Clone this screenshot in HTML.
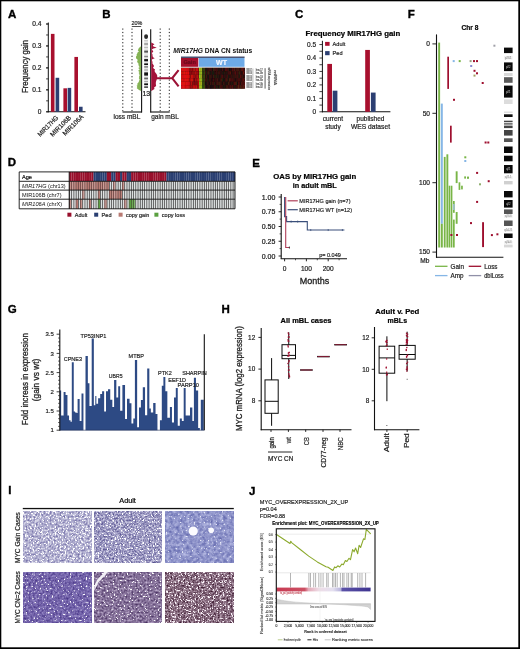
<!DOCTYPE html>
<html><head><meta charset="utf-8"><title>Figure</title>
<style>
html,body{margin:0;padding:0;background:#fff;}
body{width:520px;height:649px;overflow:hidden;font-family:"Liberation Sans", sans-serif;}
svg{display:block;will-change:transform;filter:blur(0.3px);}
svg text{font-family:"Liberation Sans", sans-serif;}
</style></head><body>
<svg width="520" height="649" viewBox="0 0 520 649">
<defs><filter id="hb" x="-2%" y="-2%" width="104%" height="104%"><feGaussianBlur stdDeviation="0.5"/></filter>
<filter id="t1" x="0" y="0" width="100%" height="100%" color-interpolation-filters="sRGB"><feTurbulence type="fractalNoise" baseFrequency="0.5" numOctaves="2" seed="2"/><feColorMatrix type="matrix" values="0.803 0 0 0 0.281 0.828 0 0 0 0.260 0.527 0 0 0 0.544 0 0 0 0 1"/><feGaussianBlur stdDeviation="0.4"/></filter>
<filter id="s1" x="0" y="0" width="100%" height="100%" color-interpolation-filters="sRGB"><feTurbulence type="fractalNoise" baseFrequency="0.6" numOctaves="2" seed="21"/><feColorMatrix type="matrix" values="0 0 0 0 1.000 0 0 0 0 1.000 0 0 0 0 1.000 12 0 0 0 -7.2"/><feGaussianBlur stdDeviation="0.35"/></filter>
<filter id="t2" x="0" y="0" width="100%" height="100%" color-interpolation-filters="sRGB"><feTurbulence type="fractalNoise" baseFrequency="0.55" numOctaves="2" seed="5"/><feColorMatrix type="matrix" values="0.841 0 0 0 0.184 0.860 0 0 0 0.162 0.602 0 0 0 0.452 0 0 0 0 1"/><feGaussianBlur stdDeviation="0.4"/></filter>
<filter id="s2" x="0" y="0" width="100%" height="100%" color-interpolation-filters="sRGB"><feTurbulence type="fractalNoise" baseFrequency="0.6" numOctaves="2" seed="22"/><feColorMatrix type="matrix" values="0 0 0 0 1.000 0 0 0 0 1.000 0 0 0 0 1.000 12 0 0 0 -7.44"/><feGaussianBlur stdDeviation="0.35"/></filter>
<filter id="t3" x="0" y="0" width="100%" height="100%" color-interpolation-filters="sRGB"><feTurbulence type="fractalNoise" baseFrequency="0.3" numOctaves="2" seed="7"/><feColorMatrix type="matrix" values="0.483 0 0 0 0.319 0.472 0 0 0 0.344 0.307 0 0 0 0.638 0 0 0 0 1"/><feGaussianBlur stdDeviation="0.5"/></filter>
<filter id="s3" x="0" y="0" width="100%" height="100%" color-interpolation-filters="sRGB"><feTurbulence type="fractalNoise" baseFrequency="0.5" numOctaves="2" seed="23"/><feColorMatrix type="matrix" values="0 0 0 0 0.910 0 0 0 0 0.918 0 0 0 0 0.973 12 0 0 0 -8.16"/><feGaussianBlur stdDeviation="0.35"/></filter>
<filter id="t4" x="0" y="0" width="100%" height="100%" color-interpolation-filters="sRGB"><feTurbulence type="fractalNoise" baseFrequency="0.45" numOctaves="2" seed="9"/><feColorMatrix type="matrix" values="0.489 0 0 0 0.210 0.520 0 0 0 0.132 0.398 0 0 0 0.468 0 0 0 0 1"/><feGaussianBlur stdDeviation="0.45"/></filter>
<filter id="s4" x="0" y="0" width="100%" height="100%" color-interpolation-filters="sRGB"><feTurbulence type="fractalNoise" baseFrequency="0.5" numOctaves="2" seed="24"/><feColorMatrix type="matrix" values="0 0 0 0 1.000 0 0 0 0 1.000 0 0 0 0 1.000 12 0 0 0 -7.92"/><feGaussianBlur stdDeviation="0.35"/></filter>
<filter id="t5" x="0" y="0" width="100%" height="100%" color-interpolation-filters="sRGB"><feTurbulence type="fractalNoise" baseFrequency="0.5" numOctaves="2" seed="11"/><feColorMatrix type="matrix" values="0.724 0 0 0 0.156 0.765 0 0 0 0.057 0.671 0 0 0 0.261 0 0 0 0 1"/><feGaussianBlur stdDeviation="0.45"/></filter>
<filter id="s5" x="0" y="0" width="100%" height="100%" color-interpolation-filters="sRGB"><feTurbulence type="fractalNoise" baseFrequency="0.55" numOctaves="2" seed="25"/><feColorMatrix type="matrix" values="0 0 0 0 1.000 0 0 0 0 1.000 0 0 0 0 1.000 12 0 0 0 -7.92"/><feGaussianBlur stdDeviation="0.35"/></filter>
<filter id="t6" x="0" y="0" width="100%" height="100%" color-interpolation-filters="sRGB"><feTurbulence type="fractalNoise" baseFrequency="0.55" numOctaves="2" seed="13"/><feColorMatrix type="matrix" values="0.916 0 0 0 0.052 1.004 0 0 0 -0.102 0.966 0 0 0 -0.005 0 0 0 0 1"/><feGaussianBlur stdDeviation="0.45"/></filter>
<filter id="s6" x="0" y="0" width="100%" height="100%" color-interpolation-filters="sRGB"><feTurbulence type="fractalNoise" baseFrequency="0.6" numOctaves="2" seed="26"/><feColorMatrix type="matrix" values="0 0 0 0 0.984 0 0 0 0 0.957 0 0 0 0 0.980 12 0 0 0 -7.2"/><feGaussianBlur stdDeviation="0.35"/></filter>
<linearGradient id="cb" x1="0" x2="1" y1="0" y2="0"><stop offset="0" stop-color="#c83a52"/><stop offset="0.3" stop-color="#cc5064"/><stop offset="0.34" stop-color="#e4aab8"/><stop offset="0.45" stop-color="#eedce6"/><stop offset="0.6" stop-color="#e4e0f0"/><stop offset="0.68" stop-color="#b8b4dc"/><stop offset="0.7" stop-color="#5c52a8"/><stop offset="1" stop-color="#3e3490"/></linearGradient></defs>
<rect width="520" height="649" fill="#fff"/>
<rect x="0" y="0" width="520" height="1.3" fill="#000"/>
<rect x="0" y="0" width="1.3" height="649" fill="#000"/>
<rect x="518.3" y="0" width="1.7" height="649" fill="#000"/>
<rect x="0" y="647.3" width="520" height="1.7" fill="#000"/>
<text x="8" y="17.84" font-size="11.5" font-weight="bold" fill="#000" stroke="#000" stroke-width="0.35">A</text>
<line x1="48.3" y1="22.5" x2="48.3" y2="112.3" stroke="#111" stroke-width="1"/>
<line x1="47.8" y1="111.8" x2="85.5" y2="111.8" stroke="#111" stroke-width="1.1"/>
<line x1="46.1" y1="111.8" x2="48.3" y2="111.8" stroke="#111" stroke-width="0.8"/>
<text x="41.4" y="114.18" font-size="6.6" text-anchor="end" fill="#222" stroke="#222" stroke-width="0.2">0</text>
<line x1="46.1" y1="89.85" x2="48.3" y2="89.85" stroke="#111" stroke-width="0.8"/>
<text x="41.4" y="92.23" font-size="6.6" text-anchor="end" fill="#222" stroke="#222" stroke-width="0.2">0.1</text>
<line x1="46.1" y1="67.9" x2="48.3" y2="67.9" stroke="#111" stroke-width="0.8"/>
<text x="41.4" y="70.28" font-size="6.6" text-anchor="end" fill="#222" stroke="#222" stroke-width="0.2">0.2</text>
<line x1="46.1" y1="45.95" x2="48.3" y2="45.95" stroke="#111" stroke-width="0.8"/>
<text x="41.4" y="48.33" font-size="6.6" text-anchor="end" fill="#222" stroke="#222" stroke-width="0.2">0.3</text>
<line x1="46.1" y1="24" x2="48.3" y2="24" stroke="#111" stroke-width="0.8"/>
<text x="41.4" y="26.38" font-size="6.6" text-anchor="end" fill="#222" stroke="#222" stroke-width="0.2">0.4</text>
<line x1="46.1" y1="111.8" x2="48.3" y2="111.8" stroke="#111" stroke-width="0.8"/>
<line x1="46.1" y1="100.83" x2="48.3" y2="100.83" stroke="#111" stroke-width="0.8"/>
<line x1="46.1" y1="89.85" x2="48.3" y2="89.85" stroke="#111" stroke-width="0.8"/>
<line x1="46.1" y1="78.88" x2="48.3" y2="78.88" stroke="#111" stroke-width="0.8"/>
<line x1="46.1" y1="67.9" x2="48.3" y2="67.9" stroke="#111" stroke-width="0.8"/>
<line x1="46.1" y1="56.93" x2="48.3" y2="56.93" stroke="#111" stroke-width="0.8"/>
<line x1="46.1" y1="45.95" x2="48.3" y2="45.95" stroke="#111" stroke-width="0.8"/>
<line x1="46.1" y1="34.97" x2="48.3" y2="34.97" stroke="#111" stroke-width="0.8"/>
<line x1="46.1" y1="24" x2="48.3" y2="24" stroke="#111" stroke-width="0.8"/>
<rect x="50.9" y="33.88" width="3.6" height="77.92" fill="#a8102e"/>
<rect x="55.6" y="77.78" width="3.6" height="34.02" fill="#2c3f72"/>
<rect x="63.4" y="88.31" width="3.6" height="23.49" fill="#a8102e"/>
<rect x="67.6" y="87.87" width="3.6" height="23.93" fill="#2c3f72"/>
<rect x="74.4" y="56.93" width="3.6" height="54.87" fill="#a8102e"/>
<rect x="79" y="106.75" width="3.6" height="5.05" fill="#2c3f72"/>
<text x="24.2" y="69.96" font-size="9.6" text-anchor="middle" fill="#222" stroke="#222" stroke-width="0.3" textLength="53" lengthAdjust="spacingAndGlyphs" transform="rotate(-90 24.2 66.5)">Frequency gain</text>
<text x="57.2" y="118.98" font-size="6.6" text-anchor="end" fill="#222" stroke="#222" stroke-width="0.2" textLength="26.5" lengthAdjust="spacingAndGlyphs" transform="rotate(-45 57.2 116.6)">MIR17HG</text>
<text x="69.8" y="118.98" font-size="6.6" text-anchor="end" fill="#222" stroke="#222" stroke-width="0.2" textLength="26.5" lengthAdjust="spacingAndGlyphs" transform="rotate(-45 69.8 116.6)">MIR106B</text>
<text x="82.4" y="117.98" font-size="6.6" text-anchor="end" fill="#222" stroke="#222" stroke-width="0.2" textLength="26.5" lengthAdjust="spacingAndGlyphs" transform="rotate(-45 82.4 115.6)">MIR106A</text>
<text x="102.2" y="17.84" font-size="11.5" font-weight="bold" fill="#000" stroke="#000" stroke-width="0.35">B</text>
<text x="136.8" y="24.94" font-size="5.4" text-anchor="middle" fill="#222" stroke="#222" stroke-width="0.17">20%</text>
<line x1="131.8" y1="26.5" x2="141.2" y2="26.5" stroke="#222" stroke-width="0.8"/>
<line x1="122.8" y1="28.5" x2="122.8" y2="111.2" stroke="#1a1a1a" stroke-width="1" stroke-dasharray="1.2 2.2"/>
<line x1="132" y1="28.5" x2="132" y2="111.2" stroke="#1a1a1a" stroke-width="1" stroke-dasharray="1.2 2.2"/>
<line x1="160.2" y1="28.5" x2="160.2" y2="111.2" stroke="#1a1a1a" stroke-width="1" stroke-dasharray="1.2 2.2"/>
<line x1="169.3" y1="28.5" x2="169.3" y2="111.2" stroke="#1a1a1a" stroke-width="1" stroke-dasharray="1.2 2.2"/>
<line x1="141.6" y1="29.3" x2="141.6" y2="112.4" stroke="#111" stroke-width="1.1"/>
<line x1="150.7" y1="29.3" x2="150.7" y2="112.4" stroke="#111" stroke-width="1.1"/>
<line x1="122.5" y1="112" x2="141.9" y2="112" stroke="#111" stroke-width="1.1"/>
<line x1="150.4" y1="112" x2="169.7" y2="112" stroke="#111" stroke-width="1.1"/>
<text x="126.9" y="118.68" font-size="6.6" text-anchor="middle" fill="#222" stroke="#222" stroke-width="0.2" textLength="26.8" lengthAdjust="spacingAndGlyphs">loss mBL</text>
<text x="165" y="118.68" font-size="6.6" text-anchor="middle" fill="#222" stroke="#222" stroke-width="0.2" textLength="27.6" lengthAdjust="spacingAndGlyphs">gain mBL</text>
<polygon points="141.1,46.5 140.6,46.5 139.69,47.3 139.03,48.1 138.26,48.9 138.24,49.7 137.72,50.5 138.99,51.3 138.13,52.1 137.12,52.9 137.35,53.7 136.46,54.5 137.08,55.3 136.11,56.1 136.15,56.9 135.91,57.7 136.18,58.5 137.4,59.3 137.39,60.1 137.61,60.9 136.91,61.7 137.47,62.5 138.7,63.3 137.84,64.1 139.06,64.9 138.38,65.7 139.25,66.5 139.53,67.3 138.22,68.1 139.35,68.9 139.43,69.7 138.28,70.5 138.53,71.3 139.55,72.1 138.55,72.9 139.31,73.7 139.17,74.5 140,75.3 138.9,76.1 139.38,76.9 138.88,77.7 138.92,78.5 139.69,79.3 139.23,80.1 139.18,80.9 138.75,81.7 138.4,82.5 137.75,83.3 137.02,84.1 137.81,84.9 136.58,85.7 137.13,86.5 137.3,87.3 136.66,88.1 137.73,88.9 138.75,89.7 139.93,90.5 141.1,91" fill="#84b254"/>
<polygon points="151.2,42.5 151.47,42.5 152.6,43.2 154.51,44.3 152.89,45.2 153.01,46.3 156.8,47.7 153.32,48.6 151.86,49.6 152.84,50.8 153.29,51.8 151.83,53 152.5,54.5 152.56,56 152.96,57.2 154.78,58.2 152.13,59.2 151.99,60.5 152.49,62 152.41,63.5 153.54,65 154.07,66.2 153.02,67.2 153.59,68.4 155.04,69.6 154.48,71 155.32,72.5 156.51,74 157.21,75.5 157.26,77 156.86,79 156.38,80.5 155.88,82 155.81,84 156.16,86 154.06,87.5 154.5,89 152.88,90 151.4,91 151.2,91" fill="#a3123a"/>
<path d="M156 78.2 H172.2 L178.6 70.2 M172.2 78.2 L178.6 86.4" stroke="#9c1236" stroke-width="2.1" fill="none" stroke-linecap="butt"/>
<rect x="144.2" y="39.6" width="3.8" height="48.4" fill="#e4e4e4"/>
<rect x="144.2" y="34.2" width="3.8" height="4.8" rx="1.9" fill="#2a2a2a"/>
<rect x="144.2" y="40.2" width="3.8" height="1" fill="#c8c8c8"/>
<rect x="144.2" y="43.2" width="3.8" height="1.6" fill="#9a9a9a"/>
<rect x="144.2" y="47" width="3.8" height="1" fill="#bbb"/>
<rect x="144.2" y="50.6" width="3.8" height="2" fill="#555"/>
<rect x="144.2" y="55.8" width="3.8" height="1.4" fill="#888"/>
<rect x="144.2" y="59.1" width="3.8" height="2.2" fill="#111"/>
<rect x="144.2" y="63.4" width="3.8" height="1.6" fill="#111"/>
<rect x="144.2" y="66.2" width="3.8" height="1.4" fill="#777"/>
<rect x="144.2" y="69.5" width="3.8" height="1" fill="#999"/>
<rect x="144.2" y="72.4" width="3.8" height="3.2" fill="#151515"/>
<rect x="144.2" y="77.6" width="3.8" height="1.7" fill="#666"/>
<rect x="144.2" y="81" width="3.8" height="0.8" fill="#999"/>
<rect x="144.2" y="83.4" width="3.8" height="1.7" fill="#111"/>
<rect x="144.2" y="86.3" width="3.8" height="1.7" fill="#555"/>
<text x="146.3" y="96.02" font-size="7" text-anchor="middle" fill="#222" stroke="#222" stroke-width="0.22">13</text>
<text x="173.2" y="52.59" font-size="7.2" font-weight="bold" fill="#111" textLength="79" lengthAdjust="spacingAndGlyphs"><tspan font-style="italic">MIR17HG</tspan> DNA CN status</text>
<rect x="181" y="56.6" width="63.6" height="1.2" fill="#1e2a50"/>
<rect x="181" y="58" width="17.3" height="8.8" fill="#a3102c"/>
<rect x="198.9" y="58" width="45.6" height="8.8" fill="#6eaae6"/>
<text x="189.6" y="64.42" font-size="5.6" text-anchor="middle" font-weight="bold" fill="#6a0a1c" stroke="#6a0a1c" stroke-width="0.17">Gain</text>
<text x="221.5" y="64.92" font-size="7" text-anchor="middle" font-weight="bold" fill="#f4f8ff" stroke="#f4f8ff" stroke-width="0.22">WT</text>
<rect x="181" y="67.8" width="63.6" height="20.8" fill="#2a0c0a"/>
<g filter="url(#hb)">
<rect x="181" y="67.8" width="1.05" height="3.52" fill="rgb(207,17,15)"/>
<rect x="181" y="71.27" width="1.05" height="3.52" fill="rgb(218,19,12)"/>
<rect x="181" y="74.73" width="1.05" height="3.52" fill="rgb(200,23,14)"/>
<rect x="181" y="78.2" width="1.05" height="3.52" fill="rgb(207,25,16)"/>
<rect x="181" y="81.67" width="1.05" height="3.52" fill="rgb(225,16,18)"/>
<rect x="181" y="85.13" width="1.05" height="3.52" fill="rgb(204,19,20)"/>
<rect x="182" y="67.8" width="1.05" height="3.52" fill="rgb(215,21,18)"/>
<rect x="182" y="71.27" width="1.05" height="3.52" fill="rgb(201,21,17)"/>
<rect x="182" y="74.73" width="1.05" height="3.52" fill="rgb(209,8,20)"/>
<rect x="182" y="78.2" width="1.05" height="3.52" fill="rgb(214,20,20)"/>
<rect x="182" y="81.67" width="1.05" height="3.52" fill="rgb(221,24,15)"/>
<rect x="182" y="85.13" width="1.05" height="3.52" fill="rgb(224,16,21)"/>
<rect x="183" y="67.8" width="1.05" height="3.52" fill="rgb(226,9,13)"/>
<rect x="183" y="71.27" width="1.05" height="3.52" fill="rgb(206,25,16)"/>
<rect x="183" y="74.73" width="1.05" height="3.52" fill="rgb(218,13,17)"/>
<rect x="183" y="78.2" width="1.05" height="3.52" fill="rgb(211,14,17)"/>
<rect x="183" y="81.67" width="1.05" height="3.52" fill="rgb(217,24,18)"/>
<rect x="183" y="85.13" width="1.05" height="3.52" fill="rgb(227,23,21)"/>
<rect x="184" y="67.8" width="1.05" height="3.52" fill="rgb(220,10,20)"/>
<rect x="184" y="71.27" width="1.05" height="3.52" fill="rgb(228,24,17)"/>
<rect x="184" y="74.73" width="1.05" height="3.52" fill="rgb(221,11,20)"/>
<rect x="184" y="78.2" width="1.05" height="3.52" fill="rgb(217,13,12)"/>
<rect x="184" y="81.67" width="1.05" height="3.52" fill="rgb(225,25,12)"/>
<rect x="184" y="85.13" width="1.05" height="3.52" fill="rgb(224,15,13)"/>
<rect x="185" y="67.8" width="1.05" height="3.52" fill="rgb(208,21,20)"/>
<rect x="185" y="71.27" width="1.05" height="3.52" fill="rgb(201,19,12)"/>
<rect x="185" y="74.73" width="1.05" height="3.52" fill="rgb(221,13,20)"/>
<rect x="185" y="78.2" width="1.05" height="3.52" fill="rgb(229,17,21)"/>
<rect x="185" y="81.67" width="1.05" height="3.52" fill="rgb(209,9,17)"/>
<rect x="185" y="85.13" width="1.05" height="3.52" fill="rgb(200,11,16)"/>
<rect x="186" y="67.8" width="1.05" height="3.52" fill="rgb(218,10,12)"/>
<rect x="186" y="71.27" width="1.05" height="3.52" fill="rgb(226,13,21)"/>
<rect x="186" y="74.73" width="1.05" height="3.52" fill="rgb(226,14,16)"/>
<rect x="186" y="78.2" width="1.05" height="3.52" fill="rgb(215,19,17)"/>
<rect x="186" y="81.67" width="1.05" height="3.52" fill="rgb(216,19,21)"/>
<rect x="186" y="85.13" width="1.05" height="3.52" fill="rgb(215,15,19)"/>
<rect x="187" y="67.8" width="1.05" height="3.52" fill="rgb(207,13,21)"/>
<rect x="187" y="71.27" width="1.05" height="3.52" fill="rgb(215,17,12)"/>
<rect x="187" y="74.73" width="1.05" height="3.52" fill="rgb(212,18,12)"/>
<rect x="187" y="78.2" width="1.05" height="3.52" fill="rgb(218,19,12)"/>
<rect x="187" y="81.67" width="1.05" height="3.52" fill="rgb(218,16,18)"/>
<rect x="187" y="85.13" width="1.05" height="3.52" fill="rgb(210,20,19)"/>
<rect x="188" y="67.8" width="1.05" height="3.52" fill="rgb(200,9,18)"/>
<rect x="188" y="71.27" width="1.05" height="3.52" fill="rgb(228,12,16)"/>
<rect x="188" y="74.73" width="1.05" height="3.52" fill="rgb(217,13,15)"/>
<rect x="188" y="78.2" width="1.05" height="3.52" fill="rgb(209,14,17)"/>
<rect x="188" y="81.67" width="1.05" height="3.52" fill="rgb(209,14,19)"/>
<rect x="188" y="85.13" width="1.05" height="3.52" fill="rgb(200,18,19)"/>
<rect x="189" y="67.8" width="1.05" height="3.52" fill="rgb(147,9,16)"/>
<rect x="189" y="71.27" width="1.05" height="3.52" fill="rgb(141,8,12)"/>
<rect x="189" y="74.73" width="1.05" height="3.52" fill="rgb(182,7,11)"/>
<rect x="189" y="78.2" width="1.05" height="3.52" fill="rgb(150,17,12)"/>
<rect x="189" y="81.67" width="1.05" height="3.52" fill="rgb(196,8,11)"/>
<rect x="189" y="85.13" width="1.05" height="3.52" fill="rgb(178,18,12)"/>
<rect x="190" y="67.8" width="1.05" height="3.52" fill="rgb(140,7,13)"/>
<rect x="190" y="71.27" width="1.05" height="3.52" fill="rgb(137,17,16)"/>
<rect x="190" y="74.73" width="1.05" height="3.52" fill="rgb(136,9,16)"/>
<rect x="190" y="78.2" width="1.05" height="3.52" fill="rgb(177,17,11)"/>
<rect x="190" y="81.67" width="1.05" height="3.52" fill="rgb(131,10,15)"/>
<rect x="190" y="85.13" width="1.05" height="3.52" fill="rgb(144,10,12)"/>
<rect x="191" y="67.8" width="1.05" height="3.52" fill="rgb(157,11,17)"/>
<rect x="191" y="71.27" width="1.05" height="3.52" fill="rgb(134,6,17)"/>
<rect x="191" y="74.73" width="1.05" height="3.52" fill="rgb(199,19,12)"/>
<rect x="191" y="78.2" width="1.05" height="3.52" fill="rgb(205,18,10)"/>
<rect x="191" y="81.67" width="1.05" height="3.52" fill="rgb(187,17,14)"/>
<rect x="191" y="85.13" width="1.05" height="3.52" fill="rgb(166,10,11)"/>
<rect x="192" y="67.8" width="1.05" height="3.52" fill="rgb(140,6,13)"/>
<rect x="192" y="71.27" width="1.05" height="3.52" fill="rgb(145,17,8)"/>
<rect x="192" y="74.73" width="1.05" height="3.52" fill="rgb(201,15,17)"/>
<rect x="192" y="78.2" width="1.05" height="3.52" fill="rgb(200,18,13)"/>
<rect x="192" y="81.67" width="1.05" height="3.52" fill="rgb(121,16,9)"/>
<rect x="192" y="85.13" width="1.05" height="3.52" fill="rgb(146,15,13)"/>
<rect x="193" y="67.8" width="1.05" height="3.52" fill="rgb(157,19,14)"/>
<rect x="193" y="71.27" width="1.05" height="3.52" fill="rgb(150,9,16)"/>
<rect x="193" y="74.73" width="1.05" height="3.52" fill="rgb(162,16,11)"/>
<rect x="193" y="78.2" width="1.05" height="3.52" fill="rgb(137,13,16)"/>
<rect x="193" y="81.67" width="1.05" height="3.52" fill="rgb(135,17,17)"/>
<rect x="193" y="85.13" width="1.05" height="3.52" fill="rgb(192,17,8)"/>
<rect x="194" y="67.8" width="1.05" height="3.52" fill="rgb(176,18,8)"/>
<rect x="194" y="71.27" width="1.05" height="3.52" fill="rgb(144,9,13)"/>
<rect x="194" y="74.73" width="1.05" height="3.52" fill="rgb(158,12,15)"/>
<rect x="194" y="78.2" width="1.05" height="3.52" fill="rgb(120,6,9)"/>
<rect x="194" y="81.67" width="1.05" height="3.52" fill="rgb(131,6,17)"/>
<rect x="194" y="85.13" width="1.05" height="3.52" fill="rgb(196,7,13)"/>
<rect x="195" y="67.8" width="1.05" height="3.52" fill="rgb(148,10,11)"/>
<rect x="195" y="71.27" width="1.05" height="3.52" fill="rgb(178,14,11)"/>
<rect x="195" y="74.73" width="1.05" height="3.52" fill="rgb(137,10,9)"/>
<rect x="195" y="78.2" width="1.05" height="3.52" fill="rgb(169,16,11)"/>
<rect x="195" y="81.67" width="1.05" height="3.52" fill="rgb(127,8,11)"/>
<rect x="195" y="85.13" width="1.05" height="3.52" fill="rgb(174,16,11)"/>
<rect x="196" y="67.8" width="1.05" height="3.52" fill="rgb(192,14,12)"/>
<rect x="196" y="71.27" width="1.05" height="3.52" fill="rgb(153,12,15)"/>
<rect x="196" y="74.73" width="1.05" height="3.52" fill="rgb(157,15,12)"/>
<rect x="196" y="78.2" width="1.05" height="3.52" fill="rgb(142,13,14)"/>
<rect x="196" y="81.67" width="1.05" height="3.52" fill="rgb(126,11,12)"/>
<rect x="196" y="85.13" width="1.05" height="3.52" fill="rgb(199,19,11)"/>
<rect x="197" y="67.8" width="1.05" height="3.52" fill="rgb(200,17,10)"/>
<rect x="197" y="71.27" width="1.05" height="3.52" fill="rgb(161,7,16)"/>
<rect x="197" y="74.73" width="1.05" height="3.52" fill="rgb(179,18,15)"/>
<rect x="197" y="78.2" width="1.05" height="3.52" fill="rgb(180,16,13)"/>
<rect x="197" y="81.67" width="1.05" height="3.52" fill="rgb(129,14,8)"/>
<rect x="197" y="85.13" width="1.05" height="3.52" fill="rgb(132,16,8)"/>
<rect x="198" y="67.8" width="1.05" height="3.52" fill="rgb(128,7,16)"/>
<rect x="198" y="71.27" width="1.05" height="3.52" fill="rgb(136,6,16)"/>
<rect x="198" y="74.73" width="1.05" height="3.52" fill="rgb(130,17,14)"/>
<rect x="198" y="78.2" width="1.05" height="3.52" fill="rgb(195,19,13)"/>
<rect x="198" y="81.67" width="1.05" height="3.52" fill="rgb(191,6,15)"/>
<rect x="198" y="85.13" width="1.05" height="3.52" fill="rgb(166,16,9)"/>
<rect x="199" y="67.8" width="1.05" height="3.52" fill="rgb(159,196,30)"/>
<rect x="199" y="71.27" width="1.05" height="3.52" fill="rgb(132,166,30)"/>
<rect x="199" y="74.73" width="1.05" height="3.52" fill="rgb(152,191,30)"/>
<rect x="199" y="78.2" width="1.05" height="3.52" fill="rgb(139,158,30)"/>
<rect x="199" y="81.67" width="1.05" height="3.52" fill="rgb(139,180,30)"/>
<rect x="199" y="85.13" width="1.05" height="3.52" fill="rgb(160,169,30)"/>
<rect x="200" y="67.8" width="1.05" height="3.52" fill="rgb(144,169,30)"/>
<rect x="200" y="71.27" width="1.05" height="3.52" fill="rgb(144,170,30)"/>
<rect x="200" y="74.73" width="1.05" height="3.52" fill="rgb(133,175,30)"/>
<rect x="200" y="78.2" width="1.05" height="3.52" fill="rgb(168,170,30)"/>
<rect x="200" y="81.67" width="1.05" height="3.52" fill="rgb(159,158,30)"/>
<rect x="200" y="85.13" width="1.05" height="3.52" fill="rgb(157,187,30)"/>
<rect x="201" y="67.8" width="1.05" height="3.52" fill="rgb(156,175,30)"/>
<rect x="201" y="71.27" width="1.05" height="3.52" fill="rgb(149,182,30)"/>
<rect x="201" y="74.73" width="1.05" height="3.52" fill="rgb(165,157,30)"/>
<rect x="201" y="78.2" width="1.05" height="3.52" fill="rgb(133,187,30)"/>
<rect x="201" y="81.67" width="1.05" height="3.52" fill="rgb(166,175,30)"/>
<rect x="201" y="85.13" width="1.05" height="3.52" fill="rgb(147,185,30)"/>
<rect x="202" y="67.8" width="1.05" height="3.52" fill="rgb(45,58,15)"/>
<rect x="202" y="71.27" width="1.05" height="3.52" fill="rgb(45,67,15)"/>
<rect x="202" y="74.73" width="1.05" height="3.52" fill="rgb(49,56,15)"/>
<rect x="202" y="78.2" width="1.05" height="3.52" fill="rgb(60,78,15)"/>
<rect x="202" y="81.67" width="1.05" height="3.52" fill="rgb(48,71,15)"/>
<rect x="202" y="85.13" width="1.05" height="3.52" fill="rgb(52,75,15)"/>
<rect x="203" y="67.8" width="1.05" height="3.52" fill="rgb(57,58,15)"/>
<rect x="203" y="71.27" width="1.05" height="3.52" fill="rgb(46,50,15)"/>
<rect x="203" y="74.73" width="1.05" height="3.52" fill="rgb(54,61,15)"/>
<rect x="203" y="78.2" width="1.05" height="3.52" fill="rgb(45,60,15)"/>
<rect x="203" y="81.67" width="1.05" height="3.52" fill="rgb(49,73,15)"/>
<rect x="203" y="85.13" width="1.05" height="3.52" fill="rgb(44,79,15)"/>
<rect x="204" y="67.8" width="1.05" height="3.52" fill="rgb(54,67,15)"/>
<rect x="204" y="71.27" width="1.05" height="3.52" fill="rgb(54,75,15)"/>
<rect x="204" y="74.73" width="1.05" height="3.52" fill="rgb(64,66,15)"/>
<rect x="204" y="78.2" width="1.05" height="3.52" fill="rgb(54,71,15)"/>
<rect x="204" y="81.67" width="1.05" height="3.52" fill="rgb(65,62,15)"/>
<rect x="204" y="85.13" width="1.05" height="3.52" fill="rgb(62,78,15)"/>
<rect x="205" y="67.8" width="1.05" height="3.52" fill="rgb(41,11,13)"/>
<rect x="205" y="71.27" width="1.05" height="3.52" fill="rgb(63,11,10)"/>
<rect x="205" y="74.73" width="1.05" height="3.52" fill="rgb(28,20,10)"/>
<rect x="205" y="78.2" width="1.05" height="3.52" fill="rgb(58,13,8)"/>
<rect x="205" y="81.67" width="1.05" height="3.52" fill="rgb(24,12,12)"/>
<rect x="205" y="85.13" width="1.05" height="3.52" fill="rgb(50,12,11)"/>
<rect x="206" y="67.8" width="1.05" height="3.52" fill="rgb(29,21,12)"/>
<rect x="206" y="71.27" width="1.05" height="3.52" fill="rgb(25,35,15)"/>
<rect x="206" y="74.73" width="1.05" height="3.52" fill="rgb(60,21,14)"/>
<rect x="206" y="78.2" width="1.05" height="3.52" fill="rgb(54,17,14)"/>
<rect x="206" y="81.67" width="1.05" height="3.52" fill="rgb(31,21,12)"/>
<rect x="206" y="85.13" width="1.05" height="3.52" fill="rgb(25,12,13)"/>
<rect x="207" y="67.8" width="1.05" height="3.52" fill="rgb(45,17,9)"/>
<rect x="207" y="71.27" width="1.05" height="3.52" fill="rgb(60,9,9)"/>
<rect x="207" y="74.73" width="1.05" height="3.52" fill="rgb(35,16,13)"/>
<rect x="207" y="78.2" width="1.05" height="3.52" fill="rgb(40,28,13)"/>
<rect x="207" y="81.67" width="1.05" height="3.52" fill="rgb(54,18,10)"/>
<rect x="207" y="85.13" width="1.05" height="3.52" fill="rgb(37,8,9)"/>
<rect x="208" y="67.8" width="1.05" height="3.52" fill="rgb(54,12,12)"/>
<rect x="208" y="71.27" width="1.05" height="3.52" fill="rgb(54,37,10)"/>
<rect x="208" y="74.73" width="1.05" height="3.52" fill="rgb(24,18,9)"/>
<rect x="208" y="78.2" width="1.05" height="3.52" fill="rgb(28,18,13)"/>
<rect x="208" y="81.67" width="1.05" height="3.52" fill="rgb(46,13,12)"/>
<rect x="208" y="85.13" width="1.05" height="3.52" fill="rgb(45,11,8)"/>
<rect x="209" y="67.8" width="1.05" height="3.52" fill="rgb(56,21,12)"/>
<rect x="209" y="71.27" width="1.05" height="3.52" fill="rgb(46,21,10)"/>
<rect x="209" y="74.73" width="1.05" height="3.52" fill="rgb(58,16,8)"/>
<rect x="209" y="78.2" width="1.05" height="3.52" fill="rgb(55,14,11)"/>
<rect x="209" y="81.67" width="1.05" height="3.52" fill="rgb(29,8,13)"/>
<rect x="209" y="85.13" width="1.05" height="3.52" fill="rgb(40,21,9)"/>
<rect x="210" y="67.8" width="1.05" height="3.52" fill="rgb(56,8,9)"/>
<rect x="210" y="71.27" width="1.05" height="3.52" fill="rgb(24,21,14)"/>
<rect x="210" y="74.73" width="1.05" height="3.52" fill="rgb(51,20,15)"/>
<rect x="210" y="78.2" width="1.05" height="3.52" fill="rgb(52,12,15)"/>
<rect x="210" y="81.67" width="1.05" height="3.52" fill="rgb(59,18,8)"/>
<rect x="210" y="85.13" width="1.05" height="3.52" fill="rgb(21,10,11)"/>
<rect x="211" y="67.8" width="1.05" height="3.52" fill="rgb(52,13,10)"/>
<rect x="211" y="71.27" width="1.05" height="3.52" fill="rgb(41,13,15)"/>
<rect x="211" y="74.73" width="1.05" height="3.52" fill="rgb(52,13,12)"/>
<rect x="211" y="78.2" width="1.05" height="3.52" fill="rgb(30,10,9)"/>
<rect x="211" y="81.67" width="1.05" height="3.52" fill="rgb(40,10,11)"/>
<rect x="211" y="85.13" width="1.05" height="3.52" fill="rgb(27,9,11)"/>
<rect x="212" y="67.8" width="1.05" height="3.52" fill="rgb(22,14,13)"/>
<rect x="212" y="71.27" width="1.05" height="3.52" fill="rgb(23,31,15)"/>
<rect x="212" y="74.73" width="1.05" height="3.52" fill="rgb(30,14,12)"/>
<rect x="212" y="78.2" width="1.05" height="3.52" fill="rgb(35,8,10)"/>
<rect x="212" y="81.67" width="1.05" height="3.52" fill="rgb(56,21,9)"/>
<rect x="212" y="85.13" width="1.05" height="3.52" fill="rgb(33,16,8)"/>
<rect x="213" y="67.8" width="1.05" height="3.52" fill="rgb(53,34,8)"/>
<rect x="213" y="71.27" width="1.05" height="3.52" fill="rgb(24,26,13)"/>
<rect x="213" y="74.73" width="1.05" height="3.52" fill="rgb(60,21,14)"/>
<rect x="213" y="78.2" width="1.05" height="3.52" fill="rgb(63,8,12)"/>
<rect x="213" y="81.67" width="1.05" height="3.52" fill="rgb(62,12,8)"/>
<rect x="213" y="85.13" width="1.05" height="3.52" fill="rgb(38,17,9)"/>
<rect x="214" y="67.8" width="1.05" height="3.52" fill="rgb(55,19,15)"/>
<rect x="214" y="71.27" width="1.05" height="3.52" fill="rgb(37,11,11)"/>
<rect x="214" y="74.73" width="1.05" height="3.52" fill="rgb(32,18,13)"/>
<rect x="214" y="78.2" width="1.05" height="3.52" fill="rgb(38,10,8)"/>
<rect x="214" y="81.67" width="1.05" height="3.52" fill="rgb(43,35,9)"/>
<rect x="214" y="85.13" width="1.05" height="3.52" fill="rgb(59,20,11)"/>
<rect x="215" y="67.8" width="1.05" height="3.52" fill="rgb(63,12,8)"/>
<rect x="215" y="71.27" width="1.05" height="3.52" fill="rgb(41,9,8)"/>
<rect x="215" y="74.73" width="1.05" height="3.52" fill="rgb(26,29,9)"/>
<rect x="215" y="78.2" width="1.05" height="3.52" fill="rgb(51,8,15)"/>
<rect x="215" y="81.67" width="1.05" height="3.52" fill="rgb(32,13,12)"/>
<rect x="215" y="85.13" width="1.05" height="3.52" fill="rgb(57,10,8)"/>
<rect x="216" y="67.8" width="1.05" height="3.52" fill="rgb(57,8,9)"/>
<rect x="216" y="71.27" width="1.05" height="3.52" fill="rgb(60,14,14)"/>
<rect x="216" y="74.73" width="1.05" height="3.52" fill="rgb(50,18,10)"/>
<rect x="216" y="78.2" width="1.05" height="3.52" fill="rgb(49,9,12)"/>
<rect x="216" y="81.67" width="1.05" height="3.52" fill="rgb(57,15,13)"/>
<rect x="216" y="85.13" width="1.05" height="3.52" fill="rgb(25,32,12)"/>
<rect x="217" y="67.8" width="1.05" height="3.52" fill="rgb(55,17,9)"/>
<rect x="217" y="71.27" width="1.05" height="3.52" fill="rgb(41,12,8)"/>
<rect x="217" y="74.73" width="1.05" height="3.52" fill="rgb(30,21,14)"/>
<rect x="217" y="78.2" width="1.05" height="3.52" fill="rgb(67,21,11)"/>
<rect x="217" y="81.67" width="1.05" height="3.52" fill="rgb(67,21,14)"/>
<rect x="217" y="85.13" width="1.05" height="3.52" fill="rgb(43,20,15)"/>
<rect x="218" y="67.8" width="1.05" height="3.52" fill="rgb(28,18,12)"/>
<rect x="218" y="71.27" width="1.05" height="3.52" fill="rgb(49,18,11)"/>
<rect x="218" y="74.73" width="1.05" height="3.52" fill="rgb(40,18,8)"/>
<rect x="218" y="78.2" width="1.05" height="3.52" fill="rgb(36,9,14)"/>
<rect x="218" y="81.67" width="1.05" height="3.52" fill="rgb(57,21,10)"/>
<rect x="218" y="85.13" width="1.05" height="3.52" fill="rgb(29,14,12)"/>
<rect x="219" y="67.8" width="1.05" height="3.52" fill="rgb(42,11,15)"/>
<rect x="219" y="71.27" width="1.05" height="3.52" fill="rgb(58,11,8)"/>
<rect x="219" y="74.73" width="1.05" height="3.52" fill="rgb(29,15,8)"/>
<rect x="219" y="78.2" width="1.05" height="3.52" fill="rgb(34,14,14)"/>
<rect x="219" y="81.67" width="1.05" height="3.52" fill="rgb(64,28,11)"/>
<rect x="219" y="85.13" width="1.05" height="3.52" fill="rgb(35,33,10)"/>
<rect x="220" y="67.8" width="1.05" height="3.52" fill="rgb(37,13,8)"/>
<rect x="220" y="71.27" width="1.05" height="3.52" fill="rgb(44,17,14)"/>
<rect x="220" y="74.73" width="1.05" height="3.52" fill="rgb(32,18,12)"/>
<rect x="220" y="78.2" width="1.05" height="3.52" fill="rgb(62,11,8)"/>
<rect x="220" y="81.67" width="1.05" height="3.52" fill="rgb(56,20,13)"/>
<rect x="220" y="85.13" width="1.05" height="3.52" fill="rgb(68,16,12)"/>
<rect x="221" y="67.8" width="1.05" height="3.52" fill="rgb(29,17,12)"/>
<rect x="221" y="71.27" width="1.05" height="3.52" fill="rgb(41,14,11)"/>
<rect x="221" y="74.73" width="1.05" height="3.52" fill="rgb(64,12,11)"/>
<rect x="221" y="78.2" width="1.05" height="3.52" fill="rgb(66,21,8)"/>
<rect x="221" y="81.67" width="1.05" height="3.52" fill="rgb(51,14,13)"/>
<rect x="221" y="85.13" width="1.05" height="3.52" fill="rgb(62,17,12)"/>
<rect x="222" y="67.8" width="1.05" height="3.52" fill="rgb(70,17,15)"/>
<rect x="222" y="71.27" width="1.05" height="3.52" fill="rgb(32,19,10)"/>
<rect x="222" y="74.73" width="1.05" height="3.52" fill="rgb(72,12,10)"/>
<rect x="222" y="78.2" width="1.05" height="3.52" fill="rgb(28,39,9)"/>
<rect x="222" y="81.67" width="1.05" height="3.52" fill="rgb(29,15,14)"/>
<rect x="222" y="85.13" width="1.05" height="3.52" fill="rgb(57,8,15)"/>
<rect x="223" y="67.8" width="1.05" height="3.52" fill="rgb(26,14,12)"/>
<rect x="223" y="71.27" width="1.05" height="3.52" fill="rgb(24,21,15)"/>
<rect x="223" y="74.73" width="1.05" height="3.52" fill="rgb(40,17,9)"/>
<rect x="223" y="78.2" width="1.05" height="3.52" fill="rgb(31,10,14)"/>
<rect x="223" y="81.67" width="1.05" height="3.52" fill="rgb(59,21,11)"/>
<rect x="223" y="85.13" width="1.05" height="3.52" fill="rgb(29,21,9)"/>
<rect x="224" y="67.8" width="1.05" height="3.52" fill="rgb(28,12,8)"/>
<rect x="224" y="71.27" width="1.05" height="3.52" fill="rgb(41,21,9)"/>
<rect x="224" y="74.73" width="1.05" height="3.52" fill="rgb(48,14,10)"/>
<rect x="224" y="78.2" width="1.05" height="3.52" fill="rgb(25,18,12)"/>
<rect x="224" y="81.67" width="1.05" height="3.52" fill="rgb(48,14,14)"/>
<rect x="224" y="85.13" width="1.05" height="3.52" fill="rgb(37,21,9)"/>
<rect x="225" y="67.8" width="1.05" height="3.52" fill="rgb(75,10,9)"/>
<rect x="225" y="71.27" width="1.05" height="3.52" fill="rgb(37,13,8)"/>
<rect x="225" y="74.73" width="1.05" height="3.52" fill="rgb(33,19,13)"/>
<rect x="225" y="78.2" width="1.05" height="3.52" fill="rgb(55,9,11)"/>
<rect x="225" y="81.67" width="1.05" height="3.52" fill="rgb(35,12,10)"/>
<rect x="225" y="85.13" width="1.05" height="3.52" fill="rgb(39,16,15)"/>
<rect x="226" y="67.8" width="1.05" height="3.52" fill="rgb(72,12,10)"/>
<rect x="226" y="71.27" width="1.05" height="3.52" fill="rgb(33,18,13)"/>
<rect x="226" y="74.73" width="1.05" height="3.52" fill="rgb(48,14,12)"/>
<rect x="226" y="78.2" width="1.05" height="3.52" fill="rgb(75,15,12)"/>
<rect x="226" y="81.67" width="1.05" height="3.52" fill="rgb(30,19,8)"/>
<rect x="226" y="85.13" width="1.05" height="3.52" fill="rgb(64,21,9)"/>
<rect x="227" y="67.8" width="1.05" height="3.52" fill="rgb(60,14,13)"/>
<rect x="227" y="71.27" width="1.05" height="3.52" fill="rgb(41,15,10)"/>
<rect x="227" y="74.73" width="1.05" height="3.52" fill="rgb(65,16,9)"/>
<rect x="227" y="78.2" width="1.05" height="3.52" fill="rgb(47,27,10)"/>
<rect x="227" y="81.67" width="1.05" height="3.52" fill="rgb(33,15,12)"/>
<rect x="227" y="85.13" width="1.05" height="3.52" fill="rgb(68,19,11)"/>
<rect x="228" y="67.8" width="1.05" height="3.52" fill="rgb(53,20,11)"/>
<rect x="228" y="71.27" width="1.05" height="3.52" fill="rgb(65,10,12)"/>
<rect x="228" y="74.73" width="1.05" height="3.52" fill="rgb(24,30,14)"/>
<rect x="228" y="78.2" width="1.05" height="3.52" fill="rgb(33,13,11)"/>
<rect x="228" y="81.67" width="1.05" height="3.52" fill="rgb(61,32,15)"/>
<rect x="228" y="85.13" width="1.05" height="3.52" fill="rgb(52,14,15)"/>
<rect x="229" y="67.8" width="1.05" height="3.52" fill="rgb(23,14,15)"/>
<rect x="229" y="71.27" width="1.05" height="3.52" fill="rgb(64,13,15)"/>
<rect x="229" y="74.73" width="1.05" height="3.52" fill="rgb(37,9,8)"/>
<rect x="229" y="78.2" width="1.05" height="3.52" fill="rgb(73,34,9)"/>
<rect x="229" y="81.67" width="1.05" height="3.52" fill="rgb(59,15,15)"/>
<rect x="229" y="85.13" width="1.05" height="3.52" fill="rgb(61,10,15)"/>
<rect x="230" y="67.8" width="1.05" height="3.52" fill="rgb(38,16,14)"/>
<rect x="230" y="71.27" width="1.05" height="3.52" fill="rgb(81,18,8)"/>
<rect x="230" y="74.73" width="1.05" height="3.52" fill="rgb(46,10,9)"/>
<rect x="230" y="78.2" width="1.05" height="3.52" fill="rgb(79,9,11)"/>
<rect x="230" y="81.67" width="1.05" height="3.52" fill="rgb(33,8,11)"/>
<rect x="230" y="85.13" width="1.05" height="3.52" fill="rgb(77,8,11)"/>
<rect x="231" y="67.8" width="1.05" height="3.52" fill="rgb(34,11,10)"/>
<rect x="231" y="71.27" width="1.05" height="3.52" fill="rgb(30,14,9)"/>
<rect x="231" y="74.73" width="1.05" height="3.52" fill="rgb(56,17,9)"/>
<rect x="231" y="78.2" width="1.05" height="3.52" fill="rgb(63,15,13)"/>
<rect x="231" y="81.67" width="1.05" height="3.52" fill="rgb(41,19,11)"/>
<rect x="231" y="85.13" width="1.05" height="3.52" fill="rgb(52,20,9)"/>
<rect x="232" y="67.8" width="1.05" height="3.52" fill="rgb(83,12,11)"/>
<rect x="232" y="71.27" width="1.05" height="3.52" fill="rgb(47,12,12)"/>
<rect x="232" y="74.73" width="1.05" height="3.52" fill="rgb(39,19,12)"/>
<rect x="232" y="78.2" width="1.05" height="3.52" fill="rgb(71,14,14)"/>
<rect x="232" y="81.67" width="1.05" height="3.52" fill="rgb(31,18,10)"/>
<rect x="232" y="85.13" width="1.05" height="3.52" fill="rgb(84,15,14)"/>
<rect x="233" y="67.8" width="1.05" height="3.52" fill="rgb(62,8,13)"/>
<rect x="233" y="71.27" width="1.05" height="3.52" fill="rgb(49,15,13)"/>
<rect x="233" y="74.73" width="1.05" height="3.52" fill="rgb(56,9,10)"/>
<rect x="233" y="78.2" width="1.05" height="3.52" fill="rgb(57,13,11)"/>
<rect x="233" y="81.67" width="1.05" height="3.52" fill="rgb(49,8,9)"/>
<rect x="233" y="85.13" width="1.05" height="3.52" fill="rgb(47,9,15)"/>
<rect x="234" y="67.8" width="1.05" height="3.52" fill="rgb(75,31,10)"/>
<rect x="234" y="71.27" width="1.05" height="3.52" fill="rgb(63,9,11)"/>
<rect x="234" y="74.73" width="1.05" height="3.52" fill="rgb(47,21,12)"/>
<rect x="234" y="78.2" width="1.05" height="3.52" fill="rgb(49,11,14)"/>
<rect x="234" y="81.67" width="1.05" height="3.52" fill="rgb(81,9,14)"/>
<rect x="234" y="85.13" width="1.05" height="3.52" fill="rgb(44,21,14)"/>
<rect x="235" y="67.8" width="1.05" height="3.52" fill="rgb(49,11,10)"/>
<rect x="235" y="71.27" width="1.05" height="3.52" fill="rgb(84,15,11)"/>
<rect x="235" y="74.73" width="1.05" height="3.52" fill="rgb(64,15,11)"/>
<rect x="235" y="78.2" width="1.05" height="3.52" fill="rgb(27,16,14)"/>
<rect x="235" y="81.67" width="1.05" height="3.52" fill="rgb(74,19,10)"/>
<rect x="235" y="85.13" width="1.05" height="3.52" fill="rgb(40,18,9)"/>
<rect x="236" y="67.8" width="1.05" height="3.52" fill="rgb(62,18,13)"/>
<rect x="236" y="71.27" width="1.05" height="3.52" fill="rgb(46,17,9)"/>
<rect x="236" y="74.73" width="1.05" height="3.52" fill="rgb(48,20,8)"/>
<rect x="236" y="78.2" width="1.05" height="3.52" fill="rgb(52,13,15)"/>
<rect x="236" y="81.67" width="1.05" height="3.52" fill="rgb(56,35,10)"/>
<rect x="236" y="85.13" width="1.05" height="3.52" fill="rgb(57,8,10)"/>
<rect x="237" y="67.8" width="1.05" height="3.52" fill="rgb(67,19,14)"/>
<rect x="237" y="71.27" width="1.05" height="3.52" fill="rgb(65,12,11)"/>
<rect x="237" y="74.73" width="1.05" height="3.52" fill="rgb(69,11,8)"/>
<rect x="237" y="78.2" width="1.05" height="3.52" fill="rgb(56,15,10)"/>
<rect x="237" y="81.67" width="1.05" height="3.52" fill="rgb(22,12,12)"/>
<rect x="237" y="85.13" width="1.05" height="3.52" fill="rgb(61,16,13)"/>
<rect x="238" y="67.8" width="1.05" height="3.52" fill="rgb(60,30,14)"/>
<rect x="238" y="71.27" width="1.05" height="3.52" fill="rgb(46,20,12)"/>
<rect x="238" y="74.73" width="1.05" height="3.52" fill="rgb(44,21,10)"/>
<rect x="238" y="78.2" width="1.05" height="3.52" fill="rgb(69,14,9)"/>
<rect x="238" y="81.67" width="1.05" height="3.52" fill="rgb(78,8,8)"/>
<rect x="238" y="85.13" width="1.05" height="3.52" fill="rgb(87,38,13)"/>
<rect x="239" y="67.8" width="1.05" height="3.52" fill="rgb(54,12,9)"/>
<rect x="239" y="71.27" width="1.05" height="3.52" fill="rgb(51,39,15)"/>
<rect x="239" y="74.73" width="1.05" height="3.52" fill="rgb(32,18,14)"/>
<rect x="239" y="78.2" width="1.05" height="3.52" fill="rgb(70,9,12)"/>
<rect x="239" y="81.67" width="1.05" height="3.52" fill="rgb(63,8,15)"/>
<rect x="239" y="85.13" width="1.05" height="3.52" fill="rgb(69,15,11)"/>
<rect x="240" y="67.8" width="1.05" height="3.52" fill="rgb(48,12,10)"/>
<rect x="240" y="71.27" width="1.05" height="3.52" fill="rgb(53,13,13)"/>
<rect x="240" y="74.73" width="1.05" height="3.52" fill="rgb(84,10,8)"/>
<rect x="240" y="78.2" width="1.05" height="3.52" fill="rgb(57,16,9)"/>
<rect x="240" y="81.67" width="1.05" height="3.52" fill="rgb(32,15,15)"/>
<rect x="240" y="85.13" width="1.05" height="3.52" fill="rgb(61,32,13)"/>
<rect x="241" y="67.8" width="1.05" height="3.52" fill="rgb(71,18,9)"/>
<rect x="241" y="71.27" width="1.05" height="3.52" fill="rgb(39,16,13)"/>
<rect x="241" y="74.73" width="1.05" height="3.52" fill="rgb(61,14,12)"/>
<rect x="241" y="78.2" width="1.05" height="3.52" fill="rgb(49,13,13)"/>
<rect x="241" y="81.67" width="1.05" height="3.52" fill="rgb(70,20,13)"/>
<rect x="241" y="85.13" width="1.05" height="3.52" fill="rgb(70,18,8)"/>
<rect x="242" y="67.8" width="1.05" height="3.52" fill="rgb(95,12,15)"/>
<rect x="242" y="71.27" width="1.05" height="3.52" fill="rgb(47,11,11)"/>
<rect x="242" y="74.73" width="1.05" height="3.52" fill="rgb(56,20,8)"/>
<rect x="242" y="78.2" width="1.05" height="3.52" fill="rgb(78,13,10)"/>
<rect x="242" y="81.67" width="1.05" height="3.52" fill="rgb(69,11,15)"/>
<rect x="242" y="85.13" width="1.05" height="3.52" fill="rgb(76,12,9)"/>
<rect x="243" y="67.8" width="1.05" height="3.52" fill="rgb(74,13,10)"/>
<rect x="243" y="71.27" width="1.05" height="3.52" fill="rgb(108,18,8)"/>
<rect x="243" y="74.73" width="1.05" height="3.52" fill="rgb(42,10,15)"/>
<rect x="243" y="78.2" width="1.05" height="3.52" fill="rgb(91,9,8)"/>
<rect x="243" y="81.67" width="1.05" height="3.52" fill="rgb(75,12,9)"/>
<rect x="243" y="85.13" width="1.05" height="3.52" fill="rgb(78,35,15)"/>
<rect x="244" y="67.8" width="1.05" height="3.52" fill="rgb(57,17,10)"/>
<rect x="244" y="71.27" width="1.05" height="3.52" fill="rgb(58,8,10)"/>
<rect x="244" y="74.73" width="1.05" height="3.52" fill="rgb(46,9,12)"/>
<rect x="244" y="78.2" width="1.05" height="3.52" fill="rgb(57,12,14)"/>
<rect x="244" y="81.67" width="1.05" height="3.52" fill="rgb(83,14,9)"/>
<rect x="244" y="85.13" width="1.05" height="3.52" fill="rgb(85,13,14)"/>
</g>
<text x="246.4" y="70.98" font-size="3" font-weight="bold" fill="#555" stroke="#555" stroke-width="0.09" textLength="5.6" lengthAdjust="spacingAndGlyphs">ENSG17</text>
<text x="255.8" y="70.98" font-size="3" font-weight="bold" fill="#555" stroke="#555" stroke-width="0.09" textLength="7" lengthAdjust="spacingAndGlyphs">hsa-17</text>
<text x="246.4" y="74.43" font-size="3" font-weight="bold" fill="#555" stroke="#555" stroke-width="0.09" textLength="5.6" lengthAdjust="spacingAndGlyphs">ENSG18</text>
<text x="255.8" y="74.43" font-size="3" font-weight="bold" fill="#555" stroke="#555" stroke-width="0.09" textLength="7" lengthAdjust="spacingAndGlyphs">hsa-18a</text>
<text x="246.4" y="77.88" font-size="3" font-weight="bold" fill="#555" stroke="#555" stroke-width="0.09" textLength="5.6" lengthAdjust="spacingAndGlyphs">ENSG19</text>
<text x="255.8" y="77.88" font-size="3" font-weight="bold" fill="#555" stroke="#555" stroke-width="0.09" textLength="7" lengthAdjust="spacingAndGlyphs">hsa-19</text>
<text x="246.4" y="81.33" font-size="3" font-weight="bold" fill="#555" stroke="#555" stroke-width="0.09" textLength="5.6" lengthAdjust="spacingAndGlyphs">ENSG20</text>
<text x="255.8" y="81.33" font-size="3" font-weight="bold" fill="#555" stroke="#555" stroke-width="0.09" textLength="7" lengthAdjust="spacingAndGlyphs">hsa-20a</text>
<text x="246.4" y="84.78" font-size="3" font-weight="bold" fill="#555" stroke="#555" stroke-width="0.09" textLength="5.6" lengthAdjust="spacingAndGlyphs">ENSG19</text>
<text x="255.8" y="84.78" font-size="3" font-weight="bold" fill="#555" stroke="#555" stroke-width="0.09" textLength="7" lengthAdjust="spacingAndGlyphs">hsa-19b</text>
<text x="246.4" y="88.23" font-size="3" font-weight="bold" fill="#555" stroke="#555" stroke-width="0.09" textLength="5.6" lengthAdjust="spacingAndGlyphs">ENSG92</text>
<text x="255.8" y="88.23" font-size="3" font-weight="bold" fill="#555" stroke="#555" stroke-width="0.09" textLength="7" lengthAdjust="spacingAndGlyphs">hsa-92</text>
<line x1="252.9" y1="68.5" x2="252.9" y2="88.2" stroke="#888" stroke-width="0.6"/>
<rect x="264.4" y="68.2" width="1.4" height="20.4" fill="#8a8a8a"/>
<text x="268.9" y="80.1" font-size="3.9" text-anchor="middle" font-weight="bold" fill="#555" stroke="#555" stroke-width="0.12" textLength="23" lengthAdjust="spacingAndGlyphs" transform="rotate(90 268.9 78.7)">mRNA expression</text>
<text x="275.8" y="79.35" font-size="4.3" text-anchor="middle" font-weight="bold" fill="#555" stroke="#555" stroke-width="0.13" textLength="15.3" lengthAdjust="spacingAndGlyphs" transform="rotate(90 275.8 77.8)">mRNA</text>
<text x="295" y="18.04" font-size="11.5" font-weight="bold" fill="#000" stroke="#000" stroke-width="0.35">C</text>
<text x="305.6" y="35.93" font-size="7.3" font-weight="bold" stroke="#111" stroke-width="0.22" textLength="94.6" lengthAdjust="spacingAndGlyphs">Frequency MIR17HG gain</text>
<line x1="322.4" y1="40.8" x2="322.4" y2="112.3" stroke="#111" stroke-width="1"/>
<line x1="321.9" y1="111.8" x2="390.4" y2="111.8" stroke="#111" stroke-width="1.1"/>
<line x1="319.4" y1="111.8" x2="322.4" y2="111.8" stroke="#111" stroke-width="0.8"/>
<text x="316.1" y="114.14" font-size="6.5" text-anchor="end" fill="#222" stroke="#222" stroke-width="0.2">0</text>
<line x1="319.4" y1="105.08" x2="322.4" y2="105.08" stroke="#111" stroke-width="0.8"/>
<line x1="319.4" y1="98.35" x2="322.4" y2="98.35" stroke="#111" stroke-width="0.8"/>
<text x="316.1" y="100.69" font-size="6.5" text-anchor="end" fill="#222" stroke="#222" stroke-width="0.2">0.1</text>
<line x1="319.4" y1="91.62" x2="322.4" y2="91.62" stroke="#111" stroke-width="0.8"/>
<line x1="319.4" y1="84.9" x2="322.4" y2="84.9" stroke="#111" stroke-width="0.8"/>
<text x="316.1" y="87.24" font-size="6.5" text-anchor="end" fill="#222" stroke="#222" stroke-width="0.2">0.2</text>
<line x1="319.4" y1="78.17" x2="322.4" y2="78.17" stroke="#111" stroke-width="0.8"/>
<line x1="319.4" y1="71.45" x2="322.4" y2="71.45" stroke="#111" stroke-width="0.8"/>
<text x="316.1" y="73.79" font-size="6.5" text-anchor="end" fill="#222" stroke="#222" stroke-width="0.2">0.3</text>
<line x1="319.4" y1="64.72" x2="322.4" y2="64.72" stroke="#111" stroke-width="0.8"/>
<line x1="319.4" y1="58" x2="322.4" y2="58" stroke="#111" stroke-width="0.8"/>
<text x="316.1" y="60.34" font-size="6.5" text-anchor="end" fill="#222" stroke="#222" stroke-width="0.2">0.4</text>
<line x1="319.4" y1="51.27" x2="322.4" y2="51.27" stroke="#111" stroke-width="0.8"/>
<line x1="319.4" y1="44.55" x2="322.4" y2="44.55" stroke="#111" stroke-width="0.8"/>
<text x="316.1" y="46.89" font-size="6.5" text-anchor="end" fill="#222" stroke="#222" stroke-width="0.2">0.5</text>
<rect x="327.3" y="63.92" width="4.7" height="47.88" fill="#a8102e"/>
<rect x="332.7" y="90.68" width="4.7" height="21.12" fill="#2c3f72"/>
<rect x="365.2" y="49.93" width="4.7" height="61.87" fill="#a8102e"/>
<rect x="370.9" y="92.57" width="4.7" height="19.23" fill="#2c3f72"/>
<rect x="325.1" y="41.9" width="4.5" height="3.9" fill="#a8102e"/>
<rect x="325.1" y="51.1" width="4.5" height="4.1" fill="#2c3f72"/>
<text x="332.6" y="45.82" font-size="5.6" fill="#222" stroke="#222" stroke-width="0.17">Adult</text>
<text x="332.6" y="55.22" font-size="5.6" fill="#222" stroke="#222" stroke-width="0.17">Ped</text>
<text x="332.9" y="121.04" font-size="6.5" text-anchor="middle" fill="#222" stroke="#222" stroke-width="0.2">current</text>
<text x="332.9" y="128.64" font-size="6.5" text-anchor="middle" fill="#222" stroke="#222" stroke-width="0.2">study</text>
<text x="370.5" y="121.04" font-size="6.5" text-anchor="middle" fill="#222" stroke="#222" stroke-width="0.2">published</text>
<text x="370.5" y="128.64" font-size="6.5" text-anchor="middle" fill="#222" stroke="#222" stroke-width="0.2" textLength="39" lengthAdjust="spacingAndGlyphs">WES dataset</text>
<text x="407.8" y="18.04" font-size="11.5" font-weight="bold" fill="#000" stroke="#000" stroke-width="0.35">F</text>
<text x="470" y="29.58" font-size="6.6" text-anchor="middle" font-weight="bold" stroke="#111" stroke-width="0.2">Chr 8</text>
<line x1="436.5" y1="34.4" x2="436.5" y2="257.8" stroke="#111" stroke-width="1.1"/>
<line x1="436" y1="257.3" x2="503.4" y2="257.3" stroke="#111" stroke-width="1.1"/>
<line x1="432.4" y1="43.9" x2="436.5" y2="43.9" stroke="#111" stroke-width="0.9"/>
<text x="430" y="46.28" font-size="6.6" text-anchor="end" fill="#222" stroke="#222" stroke-width="0.2">0</text>
<line x1="432.4" y1="113.3" x2="436.5" y2="113.3" stroke="#111" stroke-width="0.9"/>
<text x="430" y="115.68" font-size="6.6" text-anchor="end" fill="#222" stroke="#222" stroke-width="0.2">50</text>
<line x1="432.4" y1="182.7" x2="436.5" y2="182.7" stroke="#111" stroke-width="0.9"/>
<text x="430" y="185.08" font-size="6.6" text-anchor="end" fill="#222" stroke="#222" stroke-width="0.2">100</text>
<line x1="432.4" y1="252.1" x2="436.5" y2="252.1" stroke="#111" stroke-width="0.9"/>
<text x="430" y="254.48" font-size="6.6" text-anchor="end" fill="#222" stroke="#222" stroke-width="0.2">150</text>
<text x="424.9" y="262.78" font-size="6.6" text-anchor="middle" fill="#222" stroke="#222" stroke-width="0.2">Mb</text>
<rect x="438.2" y="42.6" width="1.9" height="204.9" fill="#79b547"/>
<rect x="440.8" y="103.6" width="2" height="120.2" fill="#86b6e6"/>
<rect x="440.8" y="223.8" width="2" height="23.7" fill="#79b547"/>
<rect x="443.8" y="156.9" width="1.8" height="90.6" fill="#79b547"/>
<rect x="446.4" y="154.3" width="1.9" height="93.2" fill="#79b547"/>
<rect x="448.7" y="185.7" width="1.6" height="61.8" fill="#79b547"/>
<rect x="450.8" y="185.7" width="1.6" height="61.8" fill="#79b547"/>
<rect x="453" y="201" width="1.7" height="11.8" fill="#79b547"/>
<rect x="453" y="219.6" width="1.7" height="27.9" fill="#79b547"/>
<rect x="453" y="204" width="1.7" height="6" fill="#9cc0c8"/>
<rect x="455.7" y="171.3" width="1.9" height="11.8" fill="#79b547"/>
<rect x="455.7" y="212" width="1.9" height="11.8" fill="#79b547"/>
<rect x="458.6" y="182.3" width="1.7" height="7.6" fill="#79b547"/>
<rect x="461.1" y="185.7" width="1.7" height="3.7" fill="#79b547"/>
<rect x="464.2" y="176.4" width="1.8" height="2.2" fill="#79b547"/>
<rect x="467" y="176.6" width="2" height="2.2" fill="#79b547"/>
<rect x="447.3" y="56.7" width="1.7" height="32.2" fill="#9e0f2e"/>
<rect x="450" y="125.7" width="1.7" height="16.9" fill="#9e0f2e"/>
<rect x="482.1" y="222.2" width="1.9" height="24.9" fill="#9e0f2e"/>
<rect x="452.7" y="60.1" width="2" height="2" fill="#86b6e6"/>
<rect x="458.7" y="60.1" width="2" height="2" fill="#79b547"/>
<rect x="469.6" y="60.1" width="2" height="2" fill="#9aa080"/>
<rect x="473" y="60.1" width="2" height="2" fill="#9e0f2e"/>
<rect x="476" y="60.1" width="2" height="2" fill="#9e0f2e"/>
<rect x="470.2" y="65" width="2" height="2" fill="#8a8ad0"/>
<rect x="473.5" y="69.8" width="2" height="2" fill="#9e0f2e"/>
<rect x="476" y="72.3" width="2" height="2" fill="#9e0f2e"/>
<rect x="473.5" y="74.6" width="2" height="2" fill="#a0a060"/>
<rect x="481.7" y="82" width="2" height="2" fill="#9e0f2e"/>
<rect x="453" y="98.8" width="2" height="2" fill="#9e0f2e"/>
<rect x="493.4" y="44.7" width="2" height="2" fill="#a0a0a8"/>
<rect x="484.6" y="141.5" width="2" height="2" fill="#9e0f2e"/>
<rect x="487.3" y="141.5" width="2" height="2" fill="#9e0f2e"/>
<rect x="464.3" y="156.3" width="2" height="2" fill="#79b547"/>
<rect x="464.3" y="160" width="2" height="2" fill="#86b6e6"/>
<rect x="476.1" y="171.9" width="2" height="2" fill="#9e0f2e"/>
<rect x="487.7" y="180.2" width="2" height="2" fill="#9e0f2e"/>
<rect x="479" y="183.3" width="2" height="2" fill="#90b070"/>
<rect x="476.1" y="200.9" width="2" height="2" fill="#9e0f2e"/>
<rect x="470" y="222.1" width="2" height="2" fill="#9e0f2e"/>
<rect x="490.9" y="234.1" width="2" height="2" fill="#9e0f2e"/>
<rect x="496.4" y="233.3" width="2" height="2" fill="#9e0f2e"/>
<rect x="450.4" y="234" width="2" height="2" fill="#9e0f2e"/>
<rect x="456" y="234" width="2" height="2" fill="#9e0f2e"/>
<rect x="504" y="47.6" width="8.6" height="5.5" fill="#0a0a0a"/>
<rect x="504" y="55.9" width="8.6" height="3.7" fill="#f0f0f0"/>
<rect x="504" y="62.4" width="8.6" height="8.7" fill="#0a0a0a"/>
<rect x="504" y="73" width="8.6" height="3" fill="#d8d8d8"/>
<rect x="504" y="77.2" width="8.6" height="5.6" fill="#5a5a5a"/>
<rect x="504" y="85.6" width="8.6" height="12" fill="#0a0a0a"/>
<rect x="504" y="99.4" width="8.6" height="4.6" fill="#dcdcdc"/>
<rect x="504" y="111.5" width="8.6" height="1.5" fill="#e0e0e0"/>
<rect x="504" y="114.3" width="8.6" height="2.7" fill="#111"/>
<rect x="504" y="120.7" width="8.6" height="1.5" fill="#444"/>
<rect x="504" y="123.2" width="8.6" height="1.4" fill="#555"/>
<rect x="504" y="125.6" width="8.6" height="2.5" fill="#444"/>
<rect x="504" y="130" width="8.6" height="5.6" fill="#444"/>
<rect x="504" y="138.3" width="8.6" height="3.7" fill="#555"/>
<rect x="504" y="146.5" width="8.6" height="6.5" fill="#0a0a0a"/>
<rect x="504" y="155.7" width="8.6" height="5.6" fill="#0a0a0a"/>
<rect x="504" y="165" width="8.6" height="8.3" fill="#0a0a0a"/>
<rect x="504" y="176" width="8.6" height="3" fill="#f0f0f0"/>
<rect x="504" y="181" width="8.6" height="3.4" fill="#d0d0d0"/>
<rect x="504" y="191" width="8.6" height="6.4" fill="#0a0a0a"/>
<rect x="504" y="200" width="8.6" height="7.6" fill="#0a0a0a"/>
<rect x="504" y="209.4" width="8.6" height="4.6" fill="#555"/>
<rect x="504" y="215" width="8.6" height="2.8" fill="#eee"/>
<rect x="504" y="220.5" width="8.6" height="5.5" fill="#555"/>
<rect x="504" y="229" width="8.6" height="2.7" fill="#eee"/>
<rect x="504" y="233.5" width="8.6" height="4.5" fill="#0a0a0a"/>
<rect x="504" y="241" width="8.6" height="2.7" fill="#eee"/>
<rect x="504" y="244.6" width="8.6" height="2.8" fill="#d8d8d8"/>
<text x="508.3" y="58.74" font-size="2.6" text-anchor="middle" fill="#888" stroke="#888" stroke-width="0.08">p23.1</text>
<text x="508.3" y="67.74" font-size="2.6" text-anchor="middle" fill="#bbb" stroke="#bbb" stroke-width="0.08">p22</text>
<text x="508.3" y="92.54" font-size="2.6" text-anchor="middle" fill="#bbb" stroke="#bbb" stroke-width="0.08">p21</text>
<text x="508.3" y="170.04" font-size="2.6" text-anchor="middle" fill="#bbb" stroke="#bbb" stroke-width="0.08">q21</text>
<text x="508.3" y="178.44" font-size="2.6" text-anchor="middle" fill="#999" stroke="#999" stroke-width="0.08">q21.1</text>
<text x="508.3" y="204.74" font-size="2.6" text-anchor="middle" fill="#bbb" stroke="#bbb" stroke-width="0.08">q22</text>
<text x="508.3" y="217.34" font-size="2.6" text-anchor="middle" fill="#999" stroke="#999" stroke-width="0.08">q23.3</text>
<text x="508.3" y="231.24" font-size="2.6" text-anchor="middle" fill="#999" stroke="#999" stroke-width="0.08">q24.21</text>
<text x="508.3" y="243.24" font-size="2.6" text-anchor="middle" fill="#999" stroke="#999" stroke-width="0.08">q24.3</text>
<line x1="435" y1="266.3" x2="447.5" y2="266.3" stroke="#79b547" stroke-width="1.3"/>
<line x1="468.7" y1="266.3" x2="481.2" y2="266.3" stroke="#9e0f2e" stroke-width="1.3"/>
<line x1="435" y1="275.6" x2="447.5" y2="275.6" stroke="#86b6e6" stroke-width="1.3"/>
<line x1="468.7" y1="275.6" x2="481.2" y2="275.6" stroke="#9090a8" stroke-width="1.3"/>
<text x="450.6" y="268.57" font-size="6.3" fill="#222" stroke="#222" stroke-width="0.19">Gain</text>
<text x="484.2" y="268.57" font-size="6.3" fill="#222" stroke="#222" stroke-width="0.19">Loss</text>
<text x="450.6" y="277.87" font-size="6.3" fill="#222" stroke="#222" stroke-width="0.19">Amp</text>
<text x="484.2" y="277.87" font-size="6.3" fill="#222" stroke="#222" stroke-width="0.19" textLength="19.5" lengthAdjust="spacingAndGlyphs">dblLoss</text>
<text x="7.8" y="166.44" font-size="11.5" font-weight="bold" fill="#000" stroke="#000" stroke-width="0.35">D</text>
<rect x="69.2" y="171.9" width="2.26" height="9.4" fill="#98102c"/>
<rect x="71.41" y="171.9" width="2.26" height="9.4" fill="#98102c"/>
<rect x="73.62" y="171.9" width="2.26" height="9.4" fill="#98102c"/>
<rect x="75.83" y="171.9" width="2.26" height="9.4" fill="#98102c"/>
<rect x="78.04" y="171.9" width="2.26" height="9.4" fill="#98102c"/>
<rect x="80.25" y="171.9" width="2.26" height="9.4" fill="#98102c"/>
<rect x="82.46" y="171.9" width="2.26" height="9.4" fill="#98102c"/>
<rect x="84.67" y="171.9" width="2.26" height="9.4" fill="#98102c"/>
<rect x="86.89" y="171.9" width="2.26" height="9.4" fill="#98102c"/>
<rect x="89.1" y="171.9" width="2.26" height="9.4" fill="#98102c"/>
<rect x="91.31" y="171.9" width="2.26" height="9.4" fill="#98102c"/>
<rect x="93.52" y="171.9" width="2.26" height="9.4" fill="#2a3f72"/>
<rect x="95.73" y="171.9" width="2.26" height="9.4" fill="#2a3f72"/>
<rect x="97.94" y="171.9" width="2.26" height="9.4" fill="#2a3f72"/>
<rect x="100.15" y="171.9" width="2.26" height="9.4" fill="#2a3f72"/>
<rect x="102.36" y="171.9" width="2.26" height="9.4" fill="#2a3f72"/>
<rect x="104.57" y="171.9" width="2.26" height="9.4" fill="#2a3f72"/>
<rect x="106.78" y="171.9" width="2.26" height="9.4" fill="#98102c"/>
<rect x="108.99" y="171.9" width="2.26" height="9.4" fill="#98102c"/>
<rect x="111.2" y="171.9" width="2.26" height="9.4" fill="#2a3f72"/>
<rect x="113.41" y="171.9" width="2.26" height="9.4" fill="#2a3f72"/>
<rect x="115.62" y="171.9" width="2.26" height="9.4" fill="#98102c"/>
<rect x="117.83" y="171.9" width="2.26" height="9.4" fill="#98102c"/>
<rect x="120.05" y="171.9" width="2.26" height="9.4" fill="#2a3f72"/>
<rect x="122.26" y="171.9" width="2.26" height="9.4" fill="#98102c"/>
<rect x="124.47" y="171.9" width="2.26" height="9.4" fill="#98102c"/>
<rect x="126.68" y="171.9" width="2.26" height="9.4" fill="#2a3f72"/>
<rect x="128.89" y="171.9" width="2.26" height="9.4" fill="#2a3f72"/>
<rect x="131.1" y="171.9" width="2.26" height="9.4" fill="#98102c"/>
<rect x="133.31" y="171.9" width="2.26" height="9.4" fill="#98102c"/>
<rect x="135.52" y="171.9" width="2.26" height="9.4" fill="#98102c"/>
<rect x="137.73" y="171.9" width="2.26" height="9.4" fill="#98102c"/>
<rect x="139.94" y="171.9" width="2.26" height="9.4" fill="#98102c"/>
<rect x="142.15" y="171.9" width="2.26" height="9.4" fill="#98102c"/>
<rect x="144.36" y="171.9" width="2.26" height="9.4" fill="#98102c"/>
<rect x="146.57" y="171.9" width="2.26" height="9.4" fill="#98102c"/>
<rect x="148.78" y="171.9" width="2.26" height="9.4" fill="#98102c"/>
<rect x="150.99" y="171.9" width="2.26" height="9.4" fill="#98102c"/>
<rect x="153.21" y="171.9" width="2.26" height="9.4" fill="#98102c"/>
<rect x="155.42" y="171.9" width="2.26" height="9.4" fill="#98102c"/>
<rect x="157.63" y="171.9" width="2.26" height="9.4" fill="#98102c"/>
<rect x="159.84" y="171.9" width="2.26" height="9.4" fill="#98102c"/>
<rect x="162.05" y="171.9" width="2.26" height="9.4" fill="#98102c"/>
<rect x="164.26" y="171.9" width="2.26" height="9.4" fill="#98102c"/>
<rect x="166.47" y="171.9" width="2.26" height="9.4" fill="#2a3f72"/>
<rect x="168.68" y="171.9" width="2.26" height="9.4" fill="#2a3f72"/>
<rect x="170.89" y="171.9" width="2.26" height="9.4" fill="#2a3f72"/>
<rect x="173.1" y="171.9" width="2.26" height="9.4" fill="#2a3f72"/>
<rect x="175.31" y="171.9" width="2.26" height="9.4" fill="#2a3f72"/>
<rect x="177.52" y="171.9" width="2.26" height="9.4" fill="#2a3f72"/>
<rect x="179.73" y="171.9" width="2.26" height="9.4" fill="#2a3f72"/>
<rect x="181.94" y="171.9" width="2.26" height="9.4" fill="#2a3f72"/>
<rect x="184.15" y="171.9" width="2.26" height="9.4" fill="#2a3f72"/>
<rect x="186.37" y="171.9" width="2.26" height="9.4" fill="#2a3f72"/>
<rect x="188.58" y="171.9" width="2.26" height="9.4" fill="#2a3f72"/>
<rect x="190.79" y="171.9" width="2.26" height="9.4" fill="#2a3f72"/>
<rect x="193" y="171.9" width="2.26" height="9.4" fill="#2a3f72"/>
<rect x="195.21" y="171.9" width="2.26" height="9.4" fill="#2a3f72"/>
<rect x="197.42" y="171.9" width="2.26" height="9.4" fill="#2a3f72"/>
<rect x="199.63" y="171.9" width="2.26" height="9.4" fill="#2a3f72"/>
<rect x="201.84" y="171.9" width="2.26" height="9.4" fill="#2a3f72"/>
<rect x="204.05" y="171.9" width="2.26" height="9.4" fill="#2a3f72"/>
<rect x="206.26" y="171.9" width="2.26" height="9.4" fill="#2a3f72"/>
<rect x="208.47" y="171.9" width="2.26" height="9.4" fill="#2a3f72"/>
<rect x="210.68" y="171.9" width="2.26" height="9.4" fill="#2a3f72"/>
<rect x="212.89" y="171.9" width="2.26" height="9.4" fill="#2a3f72"/>
<rect x="215.1" y="171.9" width="2.26" height="9.4" fill="#2a3f72"/>
<rect x="217.31" y="171.9" width="2.26" height="9.4" fill="#2a3f72"/>
<rect x="219.53" y="171.9" width="2.26" height="9.4" fill="#2a3f72"/>
<rect x="221.74" y="171.9" width="2.26" height="9.4" fill="#2a3f72"/>
<rect x="223.95" y="171.9" width="2.26" height="9.4" fill="#2a3f72"/>
<rect x="226.16" y="171.9" width="2.26" height="9.4" fill="#2a3f72"/>
<rect x="228.37" y="171.9" width="2.26" height="9.4" fill="#2a3f72"/>
<rect x="230.58" y="171.9" width="2.26" height="9.4" fill="#2a3f72"/>
<rect x="232.79" y="171.9" width="2.26" height="9.4" fill="#2a3f72"/>
<rect x="69.2" y="181.3" width="2.26" height="8.8" fill="#b87a72"/>
<rect x="69.8" y="181.3" width="0.5" height="8.8" fill="#ffffff" opacity="0.6"/>
<rect x="69.2" y="181.3" width="0.6" height="8.8" fill="#4a2422"/>
<rect x="71.41" y="181.3" width="2.26" height="8.8" fill="#b87a72"/>
<rect x="72.01" y="181.3" width="0.5" height="8.8" fill="#ffffff" opacity="0.6"/>
<rect x="71.41" y="181.3" width="0.6" height="8.8" fill="#4a2422"/>
<rect x="73.62" y="181.3" width="2.26" height="8.8" fill="#b87a72"/>
<rect x="74.22" y="181.3" width="0.5" height="8.8" fill="#ffffff" opacity="0.6"/>
<rect x="73.62" y="181.3" width="0.6" height="8.8" fill="#4a2422"/>
<rect x="75.83" y="181.3" width="2.26" height="8.8" fill="#b87a72"/>
<rect x="76.43" y="181.3" width="0.5" height="8.8" fill="#ffffff" opacity="0.6"/>
<rect x="75.83" y="181.3" width="0.6" height="8.8" fill="#4a2422"/>
<rect x="78.04" y="181.3" width="2.26" height="8.8" fill="#b87a72"/>
<rect x="78.64" y="181.3" width="0.5" height="8.8" fill="#ffffff" opacity="0.6"/>
<rect x="78.04" y="181.3" width="0.6" height="8.8" fill="#4a2422"/>
<rect x="80.25" y="181.3" width="2.26" height="8.8" fill="#b87a72"/>
<rect x="80.85" y="181.3" width="0.5" height="8.8" fill="#ffffff" opacity="0.6"/>
<rect x="80.25" y="181.3" width="0.6" height="8.8" fill="#4a2422"/>
<rect x="82.46" y="181.3" width="2.26" height="8.8" fill="#b87a72"/>
<rect x="83.06" y="181.3" width="0.5" height="8.8" fill="#ffffff" opacity="0.6"/>
<rect x="82.46" y="181.3" width="0.6" height="8.8" fill="#4a2422"/>
<rect x="84.67" y="181.3" width="2.26" height="8.8" fill="#b87a72"/>
<rect x="85.27" y="181.3" width="0.5" height="8.8" fill="#ffffff" opacity="0.6"/>
<rect x="84.67" y="181.3" width="0.6" height="8.8" fill="#4a2422"/>
<rect x="86.89" y="181.3" width="2.26" height="8.8" fill="#b87a72"/>
<rect x="87.49" y="181.3" width="0.5" height="8.8" fill="#ffffff" opacity="0.6"/>
<rect x="86.89" y="181.3" width="0.6" height="8.8" fill="#4a2422"/>
<rect x="89.1" y="181.3" width="2.26" height="8.8" fill="#b87a72"/>
<rect x="89.7" y="181.3" width="0.5" height="8.8" fill="#ffffff" opacity="0.6"/>
<rect x="89.1" y="181.3" width="0.6" height="8.8" fill="#4a2422"/>
<rect x="91.31" y="181.3" width="2.26" height="8.8" fill="#b87a72"/>
<rect x="91.91" y="181.3" width="0.5" height="8.8" fill="#ffffff" opacity="0.6"/>
<rect x="91.31" y="181.3" width="0.6" height="8.8" fill="#4a2422"/>
<rect x="93.52" y="181.3" width="2.26" height="8.8" fill="#b87a72"/>
<rect x="94.12" y="181.3" width="0.5" height="8.8" fill="#ffffff" opacity="0.6"/>
<rect x="93.52" y="181.3" width="0.6" height="8.8" fill="#4a2422"/>
<rect x="95.73" y="181.3" width="2.26" height="8.8" fill="#b87a72"/>
<rect x="96.33" y="181.3" width="0.5" height="8.8" fill="#ffffff" opacity="0.6"/>
<rect x="95.73" y="181.3" width="0.6" height="8.8" fill="#4a2422"/>
<rect x="97.94" y="181.3" width="2.26" height="8.8" fill="#b87a72"/>
<rect x="98.54" y="181.3" width="0.5" height="8.8" fill="#ffffff" opacity="0.6"/>
<rect x="97.94" y="181.3" width="0.6" height="8.8" fill="#4a2422"/>
<rect x="100.15" y="181.3" width="2.26" height="8.8" fill="#b87a72"/>
<rect x="100.75" y="181.3" width="0.5" height="8.8" fill="#ffffff" opacity="0.6"/>
<rect x="100.15" y="181.3" width="0.6" height="8.8" fill="#4a2422"/>
<rect x="102.36" y="181.3" width="2.26" height="8.8" fill="#b87a72"/>
<rect x="102.96" y="181.3" width="0.5" height="8.8" fill="#ffffff" opacity="0.6"/>
<rect x="102.36" y="181.3" width="0.6" height="8.8" fill="#4a2422"/>
<rect x="104.57" y="181.3" width="2.26" height="8.8" fill="#b87a72"/>
<rect x="105.17" y="181.3" width="0.5" height="8.8" fill="#ffffff" opacity="0.6"/>
<rect x="104.57" y="181.3" width="0.6" height="8.8" fill="#4a2422"/>
<rect x="106.78" y="181.3" width="2.26" height="8.8" fill="#b87a72"/>
<rect x="107.38" y="181.3" width="0.5" height="8.8" fill="#ffffff" opacity="0.6"/>
<rect x="106.78" y="181.3" width="0.6" height="8.8" fill="#4a2422"/>
<rect x="108.99" y="181.3" width="2.26" height="8.8" fill="#d6dada"/>
<rect x="109.59" y="181.3" width="0.5" height="8.8" fill="#ffffff" opacity="0.6"/>
<rect x="108.99" y="181.3" width="0.6" height="8.8" fill="#1a1a1a"/>
<rect x="111.2" y="181.3" width="2.26" height="8.8" fill="#d6dada"/>
<rect x="111.8" y="181.3" width="0.5" height="8.8" fill="#ffffff" opacity="0.6"/>
<rect x="111.2" y="181.3" width="0.6" height="8.8" fill="#1a1a1a"/>
<rect x="113.41" y="181.3" width="2.26" height="8.8" fill="#b87a72"/>
<rect x="114.01" y="181.3" width="0.5" height="8.8" fill="#ffffff" opacity="0.6"/>
<rect x="113.41" y="181.3" width="0.6" height="8.8" fill="#4a2422"/>
<rect x="115.62" y="181.3" width="2.26" height="8.8" fill="#d6dada"/>
<rect x="116.22" y="181.3" width="0.5" height="8.8" fill="#ffffff" opacity="0.6"/>
<rect x="115.62" y="181.3" width="0.6" height="8.8" fill="#1a1a1a"/>
<rect x="117.83" y="181.3" width="2.26" height="8.8" fill="#d6dada"/>
<rect x="118.43" y="181.3" width="0.5" height="8.8" fill="#ffffff" opacity="0.6"/>
<rect x="117.83" y="181.3" width="0.6" height="8.8" fill="#1a1a1a"/>
<rect x="120.05" y="181.3" width="2.26" height="8.8" fill="#d6dada"/>
<rect x="120.65" y="181.3" width="0.5" height="8.8" fill="#ffffff" opacity="0.6"/>
<rect x="120.05" y="181.3" width="0.6" height="8.8" fill="#1a1a1a"/>
<rect x="122.26" y="181.3" width="2.26" height="8.8" fill="#b87a72"/>
<rect x="122.86" y="181.3" width="0.5" height="8.8" fill="#ffffff" opacity="0.6"/>
<rect x="122.26" y="181.3" width="0.6" height="8.8" fill="#4a2422"/>
<rect x="124.47" y="181.3" width="2.26" height="8.8" fill="#d6dada"/>
<rect x="125.07" y="181.3" width="0.5" height="8.8" fill="#ffffff" opacity="0.6"/>
<rect x="124.47" y="181.3" width="0.6" height="8.8" fill="#1a1a1a"/>
<rect x="126.68" y="181.3" width="2.26" height="8.8" fill="#d6dada"/>
<rect x="127.28" y="181.3" width="0.5" height="8.8" fill="#ffffff" opacity="0.6"/>
<rect x="126.68" y="181.3" width="0.6" height="8.8" fill="#1a1a1a"/>
<rect x="128.89" y="181.3" width="2.26" height="8.8" fill="#d6dada"/>
<rect x="129.49" y="181.3" width="0.5" height="8.8" fill="#ffffff" opacity="0.6"/>
<rect x="128.89" y="181.3" width="0.6" height="8.8" fill="#1a1a1a"/>
<rect x="131.1" y="181.3" width="2.26" height="8.8" fill="#d6dada"/>
<rect x="131.7" y="181.3" width="0.5" height="8.8" fill="#ffffff" opacity="0.6"/>
<rect x="131.1" y="181.3" width="0.6" height="8.8" fill="#1a1a1a"/>
<rect x="133.31" y="181.3" width="2.26" height="8.8" fill="#d6dada"/>
<rect x="133.91" y="181.3" width="0.5" height="8.8" fill="#ffffff" opacity="0.6"/>
<rect x="133.31" y="181.3" width="0.6" height="8.8" fill="#1a1a1a"/>
<rect x="135.52" y="181.3" width="2.26" height="8.8" fill="#d6dada"/>
<rect x="136.12" y="181.3" width="0.5" height="8.8" fill="#ffffff" opacity="0.6"/>
<rect x="135.52" y="181.3" width="0.6" height="8.8" fill="#1a1a1a"/>
<rect x="137.73" y="181.3" width="2.26" height="8.8" fill="#d6dada"/>
<rect x="138.33" y="181.3" width="0.5" height="8.8" fill="#ffffff" opacity="0.6"/>
<rect x="137.73" y="181.3" width="0.6" height="8.8" fill="#1a1a1a"/>
<rect x="139.94" y="181.3" width="2.26" height="8.8" fill="#d6dada"/>
<rect x="140.54" y="181.3" width="0.5" height="8.8" fill="#ffffff" opacity="0.6"/>
<rect x="139.94" y="181.3" width="0.6" height="8.8" fill="#1a1a1a"/>
<rect x="142.15" y="181.3" width="2.26" height="8.8" fill="#d6dada"/>
<rect x="142.75" y="181.3" width="0.5" height="8.8" fill="#ffffff" opacity="0.6"/>
<rect x="142.15" y="181.3" width="0.6" height="8.8" fill="#1a1a1a"/>
<rect x="144.36" y="181.3" width="2.26" height="8.8" fill="#d6dada"/>
<rect x="144.96" y="181.3" width="0.5" height="8.8" fill="#ffffff" opacity="0.6"/>
<rect x="144.36" y="181.3" width="0.6" height="8.8" fill="#1a1a1a"/>
<rect x="146.57" y="181.3" width="2.26" height="8.8" fill="#d6dada"/>
<rect x="147.17" y="181.3" width="0.5" height="8.8" fill="#ffffff" opacity="0.6"/>
<rect x="146.57" y="181.3" width="0.6" height="8.8" fill="#1a1a1a"/>
<rect x="148.78" y="181.3" width="2.26" height="8.8" fill="#d6dada"/>
<rect x="149.38" y="181.3" width="0.5" height="8.8" fill="#ffffff" opacity="0.6"/>
<rect x="148.78" y="181.3" width="0.6" height="8.8" fill="#1a1a1a"/>
<rect x="150.99" y="181.3" width="2.26" height="8.8" fill="#d6dada"/>
<rect x="151.59" y="181.3" width="0.5" height="8.8" fill="#ffffff" opacity="0.6"/>
<rect x="150.99" y="181.3" width="0.6" height="8.8" fill="#1a1a1a"/>
<rect x="153.21" y="181.3" width="2.26" height="8.8" fill="#d6dada"/>
<rect x="153.81" y="181.3" width="0.5" height="8.8" fill="#ffffff" opacity="0.6"/>
<rect x="153.21" y="181.3" width="0.6" height="8.8" fill="#1a1a1a"/>
<rect x="155.42" y="181.3" width="2.26" height="8.8" fill="#d6dada"/>
<rect x="156.02" y="181.3" width="0.5" height="8.8" fill="#ffffff" opacity="0.6"/>
<rect x="155.42" y="181.3" width="0.6" height="8.8" fill="#1a1a1a"/>
<rect x="157.63" y="181.3" width="2.26" height="8.8" fill="#d6dada"/>
<rect x="158.23" y="181.3" width="0.5" height="8.8" fill="#ffffff" opacity="0.6"/>
<rect x="157.63" y="181.3" width="0.6" height="8.8" fill="#1a1a1a"/>
<rect x="159.84" y="181.3" width="2.26" height="8.8" fill="#d6dada"/>
<rect x="160.44" y="181.3" width="0.5" height="8.8" fill="#ffffff" opacity="0.6"/>
<rect x="159.84" y="181.3" width="0.6" height="8.8" fill="#1a1a1a"/>
<rect x="162.05" y="181.3" width="2.26" height="8.8" fill="#d6dada"/>
<rect x="162.65" y="181.3" width="0.5" height="8.8" fill="#ffffff" opacity="0.6"/>
<rect x="162.05" y="181.3" width="0.6" height="8.8" fill="#1a1a1a"/>
<rect x="164.26" y="181.3" width="2.26" height="8.8" fill="#d6dada"/>
<rect x="164.86" y="181.3" width="0.5" height="8.8" fill="#ffffff" opacity="0.6"/>
<rect x="164.26" y="181.3" width="0.6" height="8.8" fill="#1a1a1a"/>
<rect x="166.47" y="181.3" width="2.26" height="8.8" fill="#d6dada"/>
<rect x="167.07" y="181.3" width="0.5" height="8.8" fill="#ffffff" opacity="0.6"/>
<rect x="166.47" y="181.3" width="0.6" height="8.8" fill="#1a1a1a"/>
<rect x="168.68" y="181.3" width="2.26" height="8.8" fill="#d6dada"/>
<rect x="169.28" y="181.3" width="0.5" height="8.8" fill="#ffffff" opacity="0.6"/>
<rect x="168.68" y="181.3" width="0.6" height="8.8" fill="#1a1a1a"/>
<rect x="170.89" y="181.3" width="2.26" height="8.8" fill="#d6dada"/>
<rect x="171.49" y="181.3" width="0.5" height="8.8" fill="#ffffff" opacity="0.6"/>
<rect x="170.89" y="181.3" width="0.6" height="8.8" fill="#1a1a1a"/>
<rect x="173.1" y="181.3" width="2.26" height="8.8" fill="#d6dada"/>
<rect x="173.7" y="181.3" width="0.5" height="8.8" fill="#ffffff" opacity="0.6"/>
<rect x="173.1" y="181.3" width="0.6" height="8.8" fill="#1a1a1a"/>
<rect x="175.31" y="181.3" width="2.26" height="8.8" fill="#d6dada"/>
<rect x="175.91" y="181.3" width="0.5" height="8.8" fill="#ffffff" opacity="0.6"/>
<rect x="175.31" y="181.3" width="0.6" height="8.8" fill="#1a1a1a"/>
<rect x="177.52" y="181.3" width="2.26" height="8.8" fill="#d6dada"/>
<rect x="178.12" y="181.3" width="0.5" height="8.8" fill="#ffffff" opacity="0.6"/>
<rect x="177.52" y="181.3" width="0.6" height="8.8" fill="#1a1a1a"/>
<rect x="179.73" y="181.3" width="2.26" height="8.8" fill="#d6dada"/>
<rect x="180.33" y="181.3" width="0.5" height="8.8" fill="#ffffff" opacity="0.6"/>
<rect x="179.73" y="181.3" width="0.6" height="8.8" fill="#1a1a1a"/>
<rect x="181.94" y="181.3" width="2.26" height="8.8" fill="#d6dada"/>
<rect x="182.54" y="181.3" width="0.5" height="8.8" fill="#ffffff" opacity="0.6"/>
<rect x="181.94" y="181.3" width="0.6" height="8.8" fill="#1a1a1a"/>
<rect x="184.15" y="181.3" width="2.26" height="8.8" fill="#d6dada"/>
<rect x="184.75" y="181.3" width="0.5" height="8.8" fill="#ffffff" opacity="0.6"/>
<rect x="184.15" y="181.3" width="0.6" height="8.8" fill="#1a1a1a"/>
<rect x="186.37" y="181.3" width="2.26" height="8.8" fill="#d6dada"/>
<rect x="186.97" y="181.3" width="0.5" height="8.8" fill="#ffffff" opacity="0.6"/>
<rect x="186.37" y="181.3" width="0.6" height="8.8" fill="#1a1a1a"/>
<rect x="188.58" y="181.3" width="2.26" height="8.8" fill="#d6dada"/>
<rect x="189.18" y="181.3" width="0.5" height="8.8" fill="#ffffff" opacity="0.6"/>
<rect x="188.58" y="181.3" width="0.6" height="8.8" fill="#1a1a1a"/>
<rect x="190.79" y="181.3" width="2.26" height="8.8" fill="#d6dada"/>
<rect x="191.39" y="181.3" width="0.5" height="8.8" fill="#ffffff" opacity="0.6"/>
<rect x="190.79" y="181.3" width="0.6" height="8.8" fill="#1a1a1a"/>
<rect x="193" y="181.3" width="2.26" height="8.8" fill="#d6dada"/>
<rect x="193.6" y="181.3" width="0.5" height="8.8" fill="#ffffff" opacity="0.6"/>
<rect x="193" y="181.3" width="0.6" height="8.8" fill="#1a1a1a"/>
<rect x="195.21" y="181.3" width="2.26" height="8.8" fill="#d6dada"/>
<rect x="195.81" y="181.3" width="0.5" height="8.8" fill="#ffffff" opacity="0.6"/>
<rect x="195.21" y="181.3" width="0.6" height="8.8" fill="#1a1a1a"/>
<rect x="197.42" y="181.3" width="2.26" height="8.8" fill="#d6dada"/>
<rect x="198.02" y="181.3" width="0.5" height="8.8" fill="#ffffff" opacity="0.6"/>
<rect x="197.42" y="181.3" width="0.6" height="8.8" fill="#1a1a1a"/>
<rect x="199.63" y="181.3" width="2.26" height="8.8" fill="#d6dada"/>
<rect x="200.23" y="181.3" width="0.5" height="8.8" fill="#ffffff" opacity="0.6"/>
<rect x="199.63" y="181.3" width="0.6" height="8.8" fill="#1a1a1a"/>
<rect x="201.84" y="181.3" width="2.26" height="8.8" fill="#d6dada"/>
<rect x="202.44" y="181.3" width="0.5" height="8.8" fill="#ffffff" opacity="0.6"/>
<rect x="201.84" y="181.3" width="0.6" height="8.8" fill="#1a1a1a"/>
<rect x="204.05" y="181.3" width="2.26" height="8.8" fill="#d6dada"/>
<rect x="204.65" y="181.3" width="0.5" height="8.8" fill="#ffffff" opacity="0.6"/>
<rect x="204.05" y="181.3" width="0.6" height="8.8" fill="#1a1a1a"/>
<rect x="206.26" y="181.3" width="2.26" height="8.8" fill="#d6dada"/>
<rect x="206.86" y="181.3" width="0.5" height="8.8" fill="#ffffff" opacity="0.6"/>
<rect x="206.26" y="181.3" width="0.6" height="8.8" fill="#1a1a1a"/>
<rect x="208.47" y="181.3" width="2.26" height="8.8" fill="#d6dada"/>
<rect x="209.07" y="181.3" width="0.5" height="8.8" fill="#ffffff" opacity="0.6"/>
<rect x="208.47" y="181.3" width="0.6" height="8.8" fill="#1a1a1a"/>
<rect x="210.68" y="181.3" width="2.26" height="8.8" fill="#d6dada"/>
<rect x="211.28" y="181.3" width="0.5" height="8.8" fill="#ffffff" opacity="0.6"/>
<rect x="210.68" y="181.3" width="0.6" height="8.8" fill="#1a1a1a"/>
<rect x="212.89" y="181.3" width="2.26" height="8.8" fill="#d6dada"/>
<rect x="213.49" y="181.3" width="0.5" height="8.8" fill="#ffffff" opacity="0.6"/>
<rect x="212.89" y="181.3" width="0.6" height="8.8" fill="#1a1a1a"/>
<rect x="215.1" y="181.3" width="2.26" height="8.8" fill="#d6dada"/>
<rect x="215.7" y="181.3" width="0.5" height="8.8" fill="#ffffff" opacity="0.6"/>
<rect x="215.1" y="181.3" width="0.6" height="8.8" fill="#1a1a1a"/>
<rect x="217.31" y="181.3" width="2.26" height="8.8" fill="#d6dada"/>
<rect x="217.91" y="181.3" width="0.5" height="8.8" fill="#ffffff" opacity="0.6"/>
<rect x="217.31" y="181.3" width="0.6" height="8.8" fill="#1a1a1a"/>
<rect x="219.53" y="181.3" width="2.26" height="8.8" fill="#d6dada"/>
<rect x="220.13" y="181.3" width="0.5" height="8.8" fill="#ffffff" opacity="0.6"/>
<rect x="219.53" y="181.3" width="0.6" height="8.8" fill="#1a1a1a"/>
<rect x="221.74" y="181.3" width="2.26" height="8.8" fill="#d6dada"/>
<rect x="222.34" y="181.3" width="0.5" height="8.8" fill="#ffffff" opacity="0.6"/>
<rect x="221.74" y="181.3" width="0.6" height="8.8" fill="#1a1a1a"/>
<rect x="223.95" y="181.3" width="2.26" height="8.8" fill="#d6dada"/>
<rect x="224.55" y="181.3" width="0.5" height="8.8" fill="#ffffff" opacity="0.6"/>
<rect x="223.95" y="181.3" width="0.6" height="8.8" fill="#1a1a1a"/>
<rect x="226.16" y="181.3" width="2.26" height="8.8" fill="#d6dada"/>
<rect x="226.76" y="181.3" width="0.5" height="8.8" fill="#ffffff" opacity="0.6"/>
<rect x="226.16" y="181.3" width="0.6" height="8.8" fill="#1a1a1a"/>
<rect x="228.37" y="181.3" width="2.26" height="8.8" fill="#d6dada"/>
<rect x="228.97" y="181.3" width="0.5" height="8.8" fill="#ffffff" opacity="0.6"/>
<rect x="228.37" y="181.3" width="0.6" height="8.8" fill="#1a1a1a"/>
<rect x="230.58" y="181.3" width="2.26" height="8.8" fill="#d6dada"/>
<rect x="231.18" y="181.3" width="0.5" height="8.8" fill="#ffffff" opacity="0.6"/>
<rect x="230.58" y="181.3" width="0.6" height="8.8" fill="#1a1a1a"/>
<rect x="232.79" y="181.3" width="2.26" height="8.8" fill="#d6dada"/>
<rect x="233.39" y="181.3" width="0.5" height="8.8" fill="#ffffff" opacity="0.6"/>
<rect x="232.79" y="181.3" width="0.6" height="8.8" fill="#1a1a1a"/>
<rect x="69.2" y="190.1" width="2.26" height="9.1" fill="#d6dada"/>
<rect x="69.8" y="190.1" width="0.5" height="9.1" fill="#ffffff" opacity="0.6"/>
<rect x="69.2" y="190.1" width="0.6" height="9.1" fill="#1a1a1a"/>
<rect x="71.41" y="190.1" width="2.26" height="9.1" fill="#d6dada"/>
<rect x="72.01" y="190.1" width="0.5" height="9.1" fill="#ffffff" opacity="0.6"/>
<rect x="71.41" y="190.1" width="0.6" height="9.1" fill="#1a1a1a"/>
<rect x="73.62" y="190.1" width="2.26" height="9.1" fill="#d6dada"/>
<rect x="74.22" y="190.1" width="0.5" height="9.1" fill="#ffffff" opacity="0.6"/>
<rect x="73.62" y="190.1" width="0.6" height="9.1" fill="#1a1a1a"/>
<rect x="75.83" y="190.1" width="2.26" height="9.1" fill="#d6dada"/>
<rect x="76.43" y="190.1" width="0.5" height="9.1" fill="#ffffff" opacity="0.6"/>
<rect x="75.83" y="190.1" width="0.6" height="9.1" fill="#1a1a1a"/>
<rect x="78.04" y="190.1" width="2.26" height="9.1" fill="#d6dada"/>
<rect x="78.64" y="190.1" width="0.5" height="9.1" fill="#ffffff" opacity="0.6"/>
<rect x="78.04" y="190.1" width="0.6" height="9.1" fill="#1a1a1a"/>
<rect x="80.25" y="190.1" width="2.26" height="9.1" fill="#d6dada"/>
<rect x="80.85" y="190.1" width="0.5" height="9.1" fill="#ffffff" opacity="0.6"/>
<rect x="80.25" y="190.1" width="0.6" height="9.1" fill="#1a1a1a"/>
<rect x="82.46" y="190.1" width="2.26" height="9.1" fill="#b87a72"/>
<rect x="83.06" y="190.1" width="0.5" height="9.1" fill="#ffffff" opacity="0.6"/>
<rect x="82.46" y="190.1" width="0.6" height="9.1" fill="#4a2422"/>
<rect x="84.67" y="190.1" width="2.26" height="9.1" fill="#d6dada"/>
<rect x="85.27" y="190.1" width="0.5" height="9.1" fill="#ffffff" opacity="0.6"/>
<rect x="84.67" y="190.1" width="0.6" height="9.1" fill="#1a1a1a"/>
<rect x="86.89" y="190.1" width="2.26" height="9.1" fill="#d6dada"/>
<rect x="87.49" y="190.1" width="0.5" height="9.1" fill="#ffffff" opacity="0.6"/>
<rect x="86.89" y="190.1" width="0.6" height="9.1" fill="#1a1a1a"/>
<rect x="89.1" y="190.1" width="2.26" height="9.1" fill="#d6dada"/>
<rect x="89.7" y="190.1" width="0.5" height="9.1" fill="#ffffff" opacity="0.6"/>
<rect x="89.1" y="190.1" width="0.6" height="9.1" fill="#1a1a1a"/>
<rect x="91.31" y="190.1" width="2.26" height="9.1" fill="#d6dada"/>
<rect x="91.91" y="190.1" width="0.5" height="9.1" fill="#ffffff" opacity="0.6"/>
<rect x="91.31" y="190.1" width="0.6" height="9.1" fill="#1a1a1a"/>
<rect x="93.52" y="190.1" width="2.26" height="9.1" fill="#d6dada"/>
<rect x="94.12" y="190.1" width="0.5" height="9.1" fill="#ffffff" opacity="0.6"/>
<rect x="93.52" y="190.1" width="0.6" height="9.1" fill="#1a1a1a"/>
<rect x="95.73" y="190.1" width="2.26" height="9.1" fill="#d6dada"/>
<rect x="96.33" y="190.1" width="0.5" height="9.1" fill="#ffffff" opacity="0.6"/>
<rect x="95.73" y="190.1" width="0.6" height="9.1" fill="#1a1a1a"/>
<rect x="97.94" y="190.1" width="2.26" height="9.1" fill="#b87a72"/>
<rect x="98.54" y="190.1" width="0.5" height="9.1" fill="#ffffff" opacity="0.6"/>
<rect x="97.94" y="190.1" width="0.6" height="9.1" fill="#4a2422"/>
<rect x="100.15" y="190.1" width="2.26" height="9.1" fill="#d6dada"/>
<rect x="100.75" y="190.1" width="0.5" height="9.1" fill="#ffffff" opacity="0.6"/>
<rect x="100.15" y="190.1" width="0.6" height="9.1" fill="#1a1a1a"/>
<rect x="102.36" y="190.1" width="2.26" height="9.1" fill="#d6dada"/>
<rect x="102.96" y="190.1" width="0.5" height="9.1" fill="#ffffff" opacity="0.6"/>
<rect x="102.36" y="190.1" width="0.6" height="9.1" fill="#1a1a1a"/>
<rect x="104.57" y="190.1" width="2.26" height="9.1" fill="#d6dada"/>
<rect x="105.17" y="190.1" width="0.5" height="9.1" fill="#ffffff" opacity="0.6"/>
<rect x="104.57" y="190.1" width="0.6" height="9.1" fill="#1a1a1a"/>
<rect x="106.78" y="190.1" width="2.26" height="9.1" fill="#d6dada"/>
<rect x="107.38" y="190.1" width="0.5" height="9.1" fill="#ffffff" opacity="0.6"/>
<rect x="106.78" y="190.1" width="0.6" height="9.1" fill="#1a1a1a"/>
<rect x="108.99" y="190.1" width="2.26" height="9.1" fill="#b87a72"/>
<rect x="109.59" y="190.1" width="0.5" height="9.1" fill="#ffffff" opacity="0.6"/>
<rect x="108.99" y="190.1" width="0.6" height="9.1" fill="#4a2422"/>
<rect x="111.2" y="190.1" width="2.26" height="9.1" fill="#b87a72"/>
<rect x="111.8" y="190.1" width="0.5" height="9.1" fill="#ffffff" opacity="0.6"/>
<rect x="111.2" y="190.1" width="0.6" height="9.1" fill="#4a2422"/>
<rect x="113.41" y="190.1" width="2.26" height="9.1" fill="#b87a72"/>
<rect x="114.01" y="190.1" width="0.5" height="9.1" fill="#ffffff" opacity="0.6"/>
<rect x="113.41" y="190.1" width="0.6" height="9.1" fill="#4a2422"/>
<rect x="115.62" y="190.1" width="2.26" height="9.1" fill="#b87a72"/>
<rect x="116.22" y="190.1" width="0.5" height="9.1" fill="#ffffff" opacity="0.6"/>
<rect x="115.62" y="190.1" width="0.6" height="9.1" fill="#4a2422"/>
<rect x="117.83" y="190.1" width="2.26" height="9.1" fill="#b87a72"/>
<rect x="118.43" y="190.1" width="0.5" height="9.1" fill="#ffffff" opacity="0.6"/>
<rect x="117.83" y="190.1" width="0.6" height="9.1" fill="#4a2422"/>
<rect x="120.05" y="190.1" width="2.26" height="9.1" fill="#b87a72"/>
<rect x="120.65" y="190.1" width="0.5" height="9.1" fill="#ffffff" opacity="0.6"/>
<rect x="120.05" y="190.1" width="0.6" height="9.1" fill="#4a2422"/>
<rect x="122.26" y="190.1" width="2.26" height="9.1" fill="#d6dada"/>
<rect x="122.86" y="190.1" width="0.5" height="9.1" fill="#ffffff" opacity="0.6"/>
<rect x="122.26" y="190.1" width="0.6" height="9.1" fill="#1a1a1a"/>
<rect x="124.47" y="190.1" width="2.26" height="9.1" fill="#d6dada"/>
<rect x="125.07" y="190.1" width="0.5" height="9.1" fill="#ffffff" opacity="0.6"/>
<rect x="124.47" y="190.1" width="0.6" height="9.1" fill="#1a1a1a"/>
<rect x="126.68" y="190.1" width="2.26" height="9.1" fill="#d6dada"/>
<rect x="127.28" y="190.1" width="0.5" height="9.1" fill="#ffffff" opacity="0.6"/>
<rect x="126.68" y="190.1" width="0.6" height="9.1" fill="#1a1a1a"/>
<rect x="128.89" y="190.1" width="2.26" height="9.1" fill="#d6dada"/>
<rect x="129.49" y="190.1" width="0.5" height="9.1" fill="#ffffff" opacity="0.6"/>
<rect x="128.89" y="190.1" width="0.6" height="9.1" fill="#1a1a1a"/>
<rect x="131.1" y="190.1" width="2.26" height="9.1" fill="#d6dada"/>
<rect x="131.7" y="190.1" width="0.5" height="9.1" fill="#ffffff" opacity="0.6"/>
<rect x="131.1" y="190.1" width="0.6" height="9.1" fill="#1a1a1a"/>
<rect x="133.31" y="190.1" width="2.26" height="9.1" fill="#d6dada"/>
<rect x="133.91" y="190.1" width="0.5" height="9.1" fill="#ffffff" opacity="0.6"/>
<rect x="133.31" y="190.1" width="0.6" height="9.1" fill="#1a1a1a"/>
<rect x="135.52" y="190.1" width="2.26" height="9.1" fill="#d6dada"/>
<rect x="136.12" y="190.1" width="0.5" height="9.1" fill="#ffffff" opacity="0.6"/>
<rect x="135.52" y="190.1" width="0.6" height="9.1" fill="#1a1a1a"/>
<rect x="137.73" y="190.1" width="2.26" height="9.1" fill="#d6dada"/>
<rect x="138.33" y="190.1" width="0.5" height="9.1" fill="#ffffff" opacity="0.6"/>
<rect x="137.73" y="190.1" width="0.6" height="9.1" fill="#1a1a1a"/>
<rect x="139.94" y="190.1" width="2.26" height="9.1" fill="#d6dada"/>
<rect x="140.54" y="190.1" width="0.5" height="9.1" fill="#ffffff" opacity="0.6"/>
<rect x="139.94" y="190.1" width="0.6" height="9.1" fill="#1a1a1a"/>
<rect x="142.15" y="190.1" width="2.26" height="9.1" fill="#d6dada"/>
<rect x="142.75" y="190.1" width="0.5" height="9.1" fill="#ffffff" opacity="0.6"/>
<rect x="142.15" y="190.1" width="0.6" height="9.1" fill="#1a1a1a"/>
<rect x="144.36" y="190.1" width="2.26" height="9.1" fill="#d6dada"/>
<rect x="144.96" y="190.1" width="0.5" height="9.1" fill="#ffffff" opacity="0.6"/>
<rect x="144.36" y="190.1" width="0.6" height="9.1" fill="#1a1a1a"/>
<rect x="146.57" y="190.1" width="2.26" height="9.1" fill="#d6dada"/>
<rect x="147.17" y="190.1" width="0.5" height="9.1" fill="#ffffff" opacity="0.6"/>
<rect x="146.57" y="190.1" width="0.6" height="9.1" fill="#1a1a1a"/>
<rect x="148.78" y="190.1" width="2.26" height="9.1" fill="#d6dada"/>
<rect x="149.38" y="190.1" width="0.5" height="9.1" fill="#ffffff" opacity="0.6"/>
<rect x="148.78" y="190.1" width="0.6" height="9.1" fill="#1a1a1a"/>
<rect x="150.99" y="190.1" width="2.26" height="9.1" fill="#d6dada"/>
<rect x="151.59" y="190.1" width="0.5" height="9.1" fill="#ffffff" opacity="0.6"/>
<rect x="150.99" y="190.1" width="0.6" height="9.1" fill="#1a1a1a"/>
<rect x="153.21" y="190.1" width="2.26" height="9.1" fill="#d6dada"/>
<rect x="153.81" y="190.1" width="0.5" height="9.1" fill="#ffffff" opacity="0.6"/>
<rect x="153.21" y="190.1" width="0.6" height="9.1" fill="#1a1a1a"/>
<rect x="155.42" y="190.1" width="2.26" height="9.1" fill="#d6dada"/>
<rect x="156.02" y="190.1" width="0.5" height="9.1" fill="#ffffff" opacity="0.6"/>
<rect x="155.42" y="190.1" width="0.6" height="9.1" fill="#1a1a1a"/>
<rect x="157.63" y="190.1" width="2.26" height="9.1" fill="#d6dada"/>
<rect x="158.23" y="190.1" width="0.5" height="9.1" fill="#ffffff" opacity="0.6"/>
<rect x="157.63" y="190.1" width="0.6" height="9.1" fill="#1a1a1a"/>
<rect x="159.84" y="190.1" width="2.26" height="9.1" fill="#d6dada"/>
<rect x="160.44" y="190.1" width="0.5" height="9.1" fill="#ffffff" opacity="0.6"/>
<rect x="159.84" y="190.1" width="0.6" height="9.1" fill="#1a1a1a"/>
<rect x="162.05" y="190.1" width="2.26" height="9.1" fill="#d6dada"/>
<rect x="162.65" y="190.1" width="0.5" height="9.1" fill="#ffffff" opacity="0.6"/>
<rect x="162.05" y="190.1" width="0.6" height="9.1" fill="#1a1a1a"/>
<rect x="164.26" y="190.1" width="2.26" height="9.1" fill="#d6dada"/>
<rect x="164.86" y="190.1" width="0.5" height="9.1" fill="#ffffff" opacity="0.6"/>
<rect x="164.26" y="190.1" width="0.6" height="9.1" fill="#1a1a1a"/>
<rect x="166.47" y="190.1" width="2.26" height="9.1" fill="#d6dada"/>
<rect x="167.07" y="190.1" width="0.5" height="9.1" fill="#ffffff" opacity="0.6"/>
<rect x="166.47" y="190.1" width="0.6" height="9.1" fill="#1a1a1a"/>
<rect x="168.68" y="190.1" width="2.26" height="9.1" fill="#d6dada"/>
<rect x="169.28" y="190.1" width="0.5" height="9.1" fill="#ffffff" opacity="0.6"/>
<rect x="168.68" y="190.1" width="0.6" height="9.1" fill="#1a1a1a"/>
<rect x="170.89" y="190.1" width="2.26" height="9.1" fill="#d6dada"/>
<rect x="171.49" y="190.1" width="0.5" height="9.1" fill="#ffffff" opacity="0.6"/>
<rect x="170.89" y="190.1" width="0.6" height="9.1" fill="#1a1a1a"/>
<rect x="173.1" y="190.1" width="2.26" height="9.1" fill="#d6dada"/>
<rect x="173.7" y="190.1" width="0.5" height="9.1" fill="#ffffff" opacity="0.6"/>
<rect x="173.1" y="190.1" width="0.6" height="9.1" fill="#1a1a1a"/>
<rect x="175.31" y="190.1" width="2.26" height="9.1" fill="#d6dada"/>
<rect x="175.91" y="190.1" width="0.5" height="9.1" fill="#ffffff" opacity="0.6"/>
<rect x="175.31" y="190.1" width="0.6" height="9.1" fill="#1a1a1a"/>
<rect x="177.52" y="190.1" width="2.26" height="9.1" fill="#d6dada"/>
<rect x="178.12" y="190.1" width="0.5" height="9.1" fill="#ffffff" opacity="0.6"/>
<rect x="177.52" y="190.1" width="0.6" height="9.1" fill="#1a1a1a"/>
<rect x="179.73" y="190.1" width="2.26" height="9.1" fill="#d6dada"/>
<rect x="180.33" y="190.1" width="0.5" height="9.1" fill="#ffffff" opacity="0.6"/>
<rect x="179.73" y="190.1" width="0.6" height="9.1" fill="#1a1a1a"/>
<rect x="181.94" y="190.1" width="2.26" height="9.1" fill="#d6dada"/>
<rect x="182.54" y="190.1" width="0.5" height="9.1" fill="#ffffff" opacity="0.6"/>
<rect x="181.94" y="190.1" width="0.6" height="9.1" fill="#1a1a1a"/>
<rect x="184.15" y="190.1" width="2.26" height="9.1" fill="#d6dada"/>
<rect x="184.75" y="190.1" width="0.5" height="9.1" fill="#ffffff" opacity="0.6"/>
<rect x="184.15" y="190.1" width="0.6" height="9.1" fill="#1a1a1a"/>
<rect x="186.37" y="190.1" width="2.26" height="9.1" fill="#d6dada"/>
<rect x="186.97" y="190.1" width="0.5" height="9.1" fill="#ffffff" opacity="0.6"/>
<rect x="186.37" y="190.1" width="0.6" height="9.1" fill="#1a1a1a"/>
<rect x="188.58" y="190.1" width="2.26" height="9.1" fill="#d6dada"/>
<rect x="189.18" y="190.1" width="0.5" height="9.1" fill="#ffffff" opacity="0.6"/>
<rect x="188.58" y="190.1" width="0.6" height="9.1" fill="#1a1a1a"/>
<rect x="190.79" y="190.1" width="2.26" height="9.1" fill="#d6dada"/>
<rect x="191.39" y="190.1" width="0.5" height="9.1" fill="#ffffff" opacity="0.6"/>
<rect x="190.79" y="190.1" width="0.6" height="9.1" fill="#1a1a1a"/>
<rect x="193" y="190.1" width="2.26" height="9.1" fill="#d6dada"/>
<rect x="193.6" y="190.1" width="0.5" height="9.1" fill="#ffffff" opacity="0.6"/>
<rect x="193" y="190.1" width="0.6" height="9.1" fill="#1a1a1a"/>
<rect x="195.21" y="190.1" width="2.26" height="9.1" fill="#d6dada"/>
<rect x="195.81" y="190.1" width="0.5" height="9.1" fill="#ffffff" opacity="0.6"/>
<rect x="195.21" y="190.1" width="0.6" height="9.1" fill="#1a1a1a"/>
<rect x="197.42" y="190.1" width="2.26" height="9.1" fill="#d6dada"/>
<rect x="198.02" y="190.1" width="0.5" height="9.1" fill="#ffffff" opacity="0.6"/>
<rect x="197.42" y="190.1" width="0.6" height="9.1" fill="#1a1a1a"/>
<rect x="199.63" y="190.1" width="2.26" height="9.1" fill="#d6dada"/>
<rect x="200.23" y="190.1" width="0.5" height="9.1" fill="#ffffff" opacity="0.6"/>
<rect x="199.63" y="190.1" width="0.6" height="9.1" fill="#1a1a1a"/>
<rect x="201.84" y="190.1" width="2.26" height="9.1" fill="#d6dada"/>
<rect x="202.44" y="190.1" width="0.5" height="9.1" fill="#ffffff" opacity="0.6"/>
<rect x="201.84" y="190.1" width="0.6" height="9.1" fill="#1a1a1a"/>
<rect x="204.05" y="190.1" width="2.26" height="9.1" fill="#d6dada"/>
<rect x="204.65" y="190.1" width="0.5" height="9.1" fill="#ffffff" opacity="0.6"/>
<rect x="204.05" y="190.1" width="0.6" height="9.1" fill="#1a1a1a"/>
<rect x="206.26" y="190.1" width="2.26" height="9.1" fill="#d6dada"/>
<rect x="206.86" y="190.1" width="0.5" height="9.1" fill="#ffffff" opacity="0.6"/>
<rect x="206.26" y="190.1" width="0.6" height="9.1" fill="#1a1a1a"/>
<rect x="208.47" y="190.1" width="2.26" height="9.1" fill="#d6dada"/>
<rect x="209.07" y="190.1" width="0.5" height="9.1" fill="#ffffff" opacity="0.6"/>
<rect x="208.47" y="190.1" width="0.6" height="9.1" fill="#1a1a1a"/>
<rect x="210.68" y="190.1" width="2.26" height="9.1" fill="#d6dada"/>
<rect x="211.28" y="190.1" width="0.5" height="9.1" fill="#ffffff" opacity="0.6"/>
<rect x="210.68" y="190.1" width="0.6" height="9.1" fill="#1a1a1a"/>
<rect x="212.89" y="190.1" width="2.26" height="9.1" fill="#d6dada"/>
<rect x="213.49" y="190.1" width="0.5" height="9.1" fill="#ffffff" opacity="0.6"/>
<rect x="212.89" y="190.1" width="0.6" height="9.1" fill="#1a1a1a"/>
<rect x="215.1" y="190.1" width="2.26" height="9.1" fill="#d6dada"/>
<rect x="215.7" y="190.1" width="0.5" height="9.1" fill="#ffffff" opacity="0.6"/>
<rect x="215.1" y="190.1" width="0.6" height="9.1" fill="#1a1a1a"/>
<rect x="217.31" y="190.1" width="2.26" height="9.1" fill="#d6dada"/>
<rect x="217.91" y="190.1" width="0.5" height="9.1" fill="#ffffff" opacity="0.6"/>
<rect x="217.31" y="190.1" width="0.6" height="9.1" fill="#1a1a1a"/>
<rect x="219.53" y="190.1" width="2.26" height="9.1" fill="#d6dada"/>
<rect x="220.13" y="190.1" width="0.5" height="9.1" fill="#ffffff" opacity="0.6"/>
<rect x="219.53" y="190.1" width="0.6" height="9.1" fill="#1a1a1a"/>
<rect x="221.74" y="190.1" width="2.26" height="9.1" fill="#d6dada"/>
<rect x="222.34" y="190.1" width="0.5" height="9.1" fill="#ffffff" opacity="0.6"/>
<rect x="221.74" y="190.1" width="0.6" height="9.1" fill="#1a1a1a"/>
<rect x="223.95" y="190.1" width="2.26" height="9.1" fill="#d6dada"/>
<rect x="224.55" y="190.1" width="0.5" height="9.1" fill="#ffffff" opacity="0.6"/>
<rect x="223.95" y="190.1" width="0.6" height="9.1" fill="#1a1a1a"/>
<rect x="226.16" y="190.1" width="2.26" height="9.1" fill="#d6dada"/>
<rect x="226.76" y="190.1" width="0.5" height="9.1" fill="#ffffff" opacity="0.6"/>
<rect x="226.16" y="190.1" width="0.6" height="9.1" fill="#1a1a1a"/>
<rect x="228.37" y="190.1" width="2.26" height="9.1" fill="#d6dada"/>
<rect x="228.97" y="190.1" width="0.5" height="9.1" fill="#ffffff" opacity="0.6"/>
<rect x="228.37" y="190.1" width="0.6" height="9.1" fill="#1a1a1a"/>
<rect x="230.58" y="190.1" width="2.26" height="9.1" fill="#d6dada"/>
<rect x="231.18" y="190.1" width="0.5" height="9.1" fill="#ffffff" opacity="0.6"/>
<rect x="230.58" y="190.1" width="0.6" height="9.1" fill="#1a1a1a"/>
<rect x="232.79" y="190.1" width="2.26" height="9.1" fill="#d6dada"/>
<rect x="233.39" y="190.1" width="0.5" height="9.1" fill="#ffffff" opacity="0.6"/>
<rect x="232.79" y="190.1" width="0.6" height="9.1" fill="#1a1a1a"/>
<rect x="69.2" y="199.2" width="2.26" height="9.6" fill="#b87a72"/>
<rect x="69.8" y="199.2" width="0.5" height="9.6" fill="#ffffff" opacity="0.6"/>
<rect x="69.2" y="199.2" width="0.6" height="9.6" fill="#4a2422"/>
<rect x="71.41" y="199.2" width="2.26" height="9.6" fill="#d6dada"/>
<rect x="72.01" y="199.2" width="0.5" height="9.6" fill="#ffffff" opacity="0.6"/>
<rect x="71.41" y="199.2" width="0.6" height="9.6" fill="#1a1a1a"/>
<rect x="73.62" y="199.2" width="2.26" height="9.6" fill="#d6dada"/>
<rect x="74.22" y="199.2" width="0.5" height="9.6" fill="#ffffff" opacity="0.6"/>
<rect x="73.62" y="199.2" width="0.6" height="9.6" fill="#1a1a1a"/>
<rect x="75.83" y="199.2" width="2.26" height="9.6" fill="#b87a72"/>
<rect x="76.43" y="199.2" width="0.5" height="9.6" fill="#ffffff" opacity="0.6"/>
<rect x="75.83" y="199.2" width="0.6" height="9.6" fill="#4a2422"/>
<rect x="78.04" y="199.2" width="2.26" height="9.6" fill="#d6dada"/>
<rect x="78.64" y="199.2" width="0.5" height="9.6" fill="#ffffff" opacity="0.6"/>
<rect x="78.04" y="199.2" width="0.6" height="9.6" fill="#1a1a1a"/>
<rect x="80.25" y="199.2" width="2.26" height="9.6" fill="#b87a72"/>
<rect x="80.85" y="199.2" width="0.5" height="9.6" fill="#ffffff" opacity="0.6"/>
<rect x="80.25" y="199.2" width="0.6" height="9.6" fill="#4a2422"/>
<rect x="82.46" y="199.2" width="2.26" height="9.6" fill="#d6dada"/>
<rect x="83.06" y="199.2" width="0.5" height="9.6" fill="#ffffff" opacity="0.6"/>
<rect x="82.46" y="199.2" width="0.6" height="9.6" fill="#1a1a1a"/>
<rect x="84.67" y="199.2" width="2.26" height="9.6" fill="#d6dada"/>
<rect x="85.27" y="199.2" width="0.5" height="9.6" fill="#ffffff" opacity="0.6"/>
<rect x="84.67" y="199.2" width="0.6" height="9.6" fill="#1a1a1a"/>
<rect x="86.89" y="199.2" width="2.26" height="9.6" fill="#d6dada"/>
<rect x="87.49" y="199.2" width="0.5" height="9.6" fill="#ffffff" opacity="0.6"/>
<rect x="86.89" y="199.2" width="0.6" height="9.6" fill="#1a1a1a"/>
<rect x="89.1" y="199.2" width="2.26" height="9.6" fill="#b87a72"/>
<rect x="89.7" y="199.2" width="0.5" height="9.6" fill="#ffffff" opacity="0.6"/>
<rect x="89.1" y="199.2" width="0.6" height="9.6" fill="#4a2422"/>
<rect x="91.31" y="199.2" width="2.26" height="9.6" fill="#d6dada"/>
<rect x="91.91" y="199.2" width="0.5" height="9.6" fill="#ffffff" opacity="0.6"/>
<rect x="91.31" y="199.2" width="0.6" height="9.6" fill="#1a1a1a"/>
<rect x="93.52" y="199.2" width="2.26" height="9.6" fill="#d6dada"/>
<rect x="94.12" y="199.2" width="0.5" height="9.6" fill="#ffffff" opacity="0.6"/>
<rect x="93.52" y="199.2" width="0.6" height="9.6" fill="#1a1a1a"/>
<rect x="95.73" y="199.2" width="2.26" height="9.6" fill="#d6dada"/>
<rect x="96.33" y="199.2" width="0.5" height="9.6" fill="#ffffff" opacity="0.6"/>
<rect x="95.73" y="199.2" width="0.6" height="9.6" fill="#1a1a1a"/>
<rect x="97.94" y="199.2" width="2.26" height="9.6" fill="#5aa040"/>
<rect x="98.54" y="199.2" width="0.5" height="9.6" fill="#ffffff" opacity="0.6"/>
<rect x="97.94" y="199.2" width="0.6" height="9.6" fill="#2a3a1a"/>
<rect x="100.15" y="199.2" width="2.26" height="9.6" fill="#d6dada"/>
<rect x="100.75" y="199.2" width="0.5" height="9.6" fill="#ffffff" opacity="0.6"/>
<rect x="100.15" y="199.2" width="0.6" height="9.6" fill="#1a1a1a"/>
<rect x="102.36" y="199.2" width="2.26" height="9.6" fill="#d6dada"/>
<rect x="102.96" y="199.2" width="0.5" height="9.6" fill="#ffffff" opacity="0.6"/>
<rect x="102.36" y="199.2" width="0.6" height="9.6" fill="#1a1a1a"/>
<rect x="104.57" y="199.2" width="2.26" height="9.6" fill="#b87a72"/>
<rect x="105.17" y="199.2" width="0.5" height="9.6" fill="#ffffff" opacity="0.6"/>
<rect x="104.57" y="199.2" width="0.6" height="9.6" fill="#4a2422"/>
<rect x="106.78" y="199.2" width="2.26" height="9.6" fill="#d6dada"/>
<rect x="107.38" y="199.2" width="0.5" height="9.6" fill="#ffffff" opacity="0.6"/>
<rect x="106.78" y="199.2" width="0.6" height="9.6" fill="#1a1a1a"/>
<rect x="108.99" y="199.2" width="2.26" height="9.6" fill="#d6dada"/>
<rect x="109.59" y="199.2" width="0.5" height="9.6" fill="#ffffff" opacity="0.6"/>
<rect x="108.99" y="199.2" width="0.6" height="9.6" fill="#1a1a1a"/>
<rect x="111.2" y="199.2" width="2.26" height="9.6" fill="#d6dada"/>
<rect x="111.8" y="199.2" width="0.5" height="9.6" fill="#ffffff" opacity="0.6"/>
<rect x="111.2" y="199.2" width="0.6" height="9.6" fill="#1a1a1a"/>
<rect x="113.41" y="199.2" width="2.26" height="9.6" fill="#d6dada"/>
<rect x="114.01" y="199.2" width="0.5" height="9.6" fill="#ffffff" opacity="0.6"/>
<rect x="113.41" y="199.2" width="0.6" height="9.6" fill="#1a1a1a"/>
<rect x="115.62" y="199.2" width="2.26" height="9.6" fill="#d6dada"/>
<rect x="116.22" y="199.2" width="0.5" height="9.6" fill="#ffffff" opacity="0.6"/>
<rect x="115.62" y="199.2" width="0.6" height="9.6" fill="#1a1a1a"/>
<rect x="117.83" y="199.2" width="2.26" height="9.6" fill="#d6dada"/>
<rect x="118.43" y="199.2" width="0.5" height="9.6" fill="#ffffff" opacity="0.6"/>
<rect x="117.83" y="199.2" width="0.6" height="9.6" fill="#1a1a1a"/>
<rect x="120.05" y="199.2" width="2.26" height="9.6" fill="#d6dada"/>
<rect x="120.65" y="199.2" width="0.5" height="9.6" fill="#ffffff" opacity="0.6"/>
<rect x="120.05" y="199.2" width="0.6" height="9.6" fill="#1a1a1a"/>
<rect x="122.26" y="199.2" width="2.26" height="9.6" fill="#d6dada"/>
<rect x="122.86" y="199.2" width="0.5" height="9.6" fill="#ffffff" opacity="0.6"/>
<rect x="122.26" y="199.2" width="0.6" height="9.6" fill="#1a1a1a"/>
<rect x="124.47" y="199.2" width="2.26" height="9.6" fill="#b87a72"/>
<rect x="125.07" y="199.2" width="0.5" height="9.6" fill="#ffffff" opacity="0.6"/>
<rect x="124.47" y="199.2" width="0.6" height="9.6" fill="#4a2422"/>
<rect x="126.68" y="199.2" width="2.26" height="9.6" fill="#d6dada"/>
<rect x="127.28" y="199.2" width="0.5" height="9.6" fill="#ffffff" opacity="0.6"/>
<rect x="126.68" y="199.2" width="0.6" height="9.6" fill="#1a1a1a"/>
<rect x="128.89" y="199.2" width="2.26" height="9.6" fill="#5aa040"/>
<rect x="129.49" y="199.2" width="0.5" height="9.6" fill="#ffffff" opacity="0.6"/>
<rect x="128.89" y="199.2" width="0.6" height="9.6" fill="#2a3a1a"/>
<rect x="131.1" y="199.2" width="2.26" height="9.6" fill="#5aa040"/>
<rect x="131.7" y="199.2" width="0.5" height="9.6" fill="#ffffff" opacity="0.6"/>
<rect x="131.1" y="199.2" width="0.6" height="9.6" fill="#2a3a1a"/>
<rect x="133.31" y="199.2" width="2.26" height="9.6" fill="#5aa040"/>
<rect x="133.91" y="199.2" width="0.5" height="9.6" fill="#ffffff" opacity="0.6"/>
<rect x="133.31" y="199.2" width="0.6" height="9.6" fill="#2a3a1a"/>
<rect x="135.52" y="199.2" width="2.26" height="9.6" fill="#d6dada"/>
<rect x="136.12" y="199.2" width="0.5" height="9.6" fill="#ffffff" opacity="0.6"/>
<rect x="135.52" y="199.2" width="0.6" height="9.6" fill="#1a1a1a"/>
<rect x="137.73" y="199.2" width="2.26" height="9.6" fill="#d6dada"/>
<rect x="138.33" y="199.2" width="0.5" height="9.6" fill="#ffffff" opacity="0.6"/>
<rect x="137.73" y="199.2" width="0.6" height="9.6" fill="#1a1a1a"/>
<rect x="139.94" y="199.2" width="2.26" height="9.6" fill="#d6dada"/>
<rect x="140.54" y="199.2" width="0.5" height="9.6" fill="#ffffff" opacity="0.6"/>
<rect x="139.94" y="199.2" width="0.6" height="9.6" fill="#1a1a1a"/>
<rect x="142.15" y="199.2" width="2.26" height="9.6" fill="#d6dada"/>
<rect x="142.75" y="199.2" width="0.5" height="9.6" fill="#ffffff" opacity="0.6"/>
<rect x="142.15" y="199.2" width="0.6" height="9.6" fill="#1a1a1a"/>
<rect x="144.36" y="199.2" width="2.26" height="9.6" fill="#d6dada"/>
<rect x="144.96" y="199.2" width="0.5" height="9.6" fill="#ffffff" opacity="0.6"/>
<rect x="144.36" y="199.2" width="0.6" height="9.6" fill="#1a1a1a"/>
<rect x="146.57" y="199.2" width="2.26" height="9.6" fill="#d6dada"/>
<rect x="147.17" y="199.2" width="0.5" height="9.6" fill="#ffffff" opacity="0.6"/>
<rect x="146.57" y="199.2" width="0.6" height="9.6" fill="#1a1a1a"/>
<rect x="148.78" y="199.2" width="2.26" height="9.6" fill="#d6dada"/>
<rect x="149.38" y="199.2" width="0.5" height="9.6" fill="#ffffff" opacity="0.6"/>
<rect x="148.78" y="199.2" width="0.6" height="9.6" fill="#1a1a1a"/>
<rect x="150.99" y="199.2" width="2.26" height="9.6" fill="#d6dada"/>
<rect x="151.59" y="199.2" width="0.5" height="9.6" fill="#ffffff" opacity="0.6"/>
<rect x="150.99" y="199.2" width="0.6" height="9.6" fill="#1a1a1a"/>
<rect x="153.21" y="199.2" width="2.26" height="9.6" fill="#d6dada"/>
<rect x="153.81" y="199.2" width="0.5" height="9.6" fill="#ffffff" opacity="0.6"/>
<rect x="153.21" y="199.2" width="0.6" height="9.6" fill="#1a1a1a"/>
<rect x="155.42" y="199.2" width="2.26" height="9.6" fill="#d6dada"/>
<rect x="156.02" y="199.2" width="0.5" height="9.6" fill="#ffffff" opacity="0.6"/>
<rect x="155.42" y="199.2" width="0.6" height="9.6" fill="#1a1a1a"/>
<rect x="157.63" y="199.2" width="2.26" height="9.6" fill="#d6dada"/>
<rect x="158.23" y="199.2" width="0.5" height="9.6" fill="#ffffff" opacity="0.6"/>
<rect x="157.63" y="199.2" width="0.6" height="9.6" fill="#1a1a1a"/>
<rect x="159.84" y="199.2" width="2.26" height="9.6" fill="#d6dada"/>
<rect x="160.44" y="199.2" width="0.5" height="9.6" fill="#ffffff" opacity="0.6"/>
<rect x="159.84" y="199.2" width="0.6" height="9.6" fill="#1a1a1a"/>
<rect x="162.05" y="199.2" width="2.26" height="9.6" fill="#d6dada"/>
<rect x="162.65" y="199.2" width="0.5" height="9.6" fill="#ffffff" opacity="0.6"/>
<rect x="162.05" y="199.2" width="0.6" height="9.6" fill="#1a1a1a"/>
<rect x="164.26" y="199.2" width="2.26" height="9.6" fill="#d6dada"/>
<rect x="164.86" y="199.2" width="0.5" height="9.6" fill="#ffffff" opacity="0.6"/>
<rect x="164.26" y="199.2" width="0.6" height="9.6" fill="#1a1a1a"/>
<rect x="166.47" y="199.2" width="2.26" height="9.6" fill="#d6dada"/>
<rect x="167.07" y="199.2" width="0.5" height="9.6" fill="#ffffff" opacity="0.6"/>
<rect x="166.47" y="199.2" width="0.6" height="9.6" fill="#1a1a1a"/>
<rect x="168.68" y="199.2" width="2.26" height="9.6" fill="#d6dada"/>
<rect x="169.28" y="199.2" width="0.5" height="9.6" fill="#ffffff" opacity="0.6"/>
<rect x="168.68" y="199.2" width="0.6" height="9.6" fill="#1a1a1a"/>
<rect x="170.89" y="199.2" width="2.26" height="9.6" fill="#d6dada"/>
<rect x="171.49" y="199.2" width="0.5" height="9.6" fill="#ffffff" opacity="0.6"/>
<rect x="170.89" y="199.2" width="0.6" height="9.6" fill="#1a1a1a"/>
<rect x="173.1" y="199.2" width="2.26" height="9.6" fill="#d6dada"/>
<rect x="173.7" y="199.2" width="0.5" height="9.6" fill="#ffffff" opacity="0.6"/>
<rect x="173.1" y="199.2" width="0.6" height="9.6" fill="#1a1a1a"/>
<rect x="175.31" y="199.2" width="2.26" height="9.6" fill="#d6dada"/>
<rect x="175.91" y="199.2" width="0.5" height="9.6" fill="#ffffff" opacity="0.6"/>
<rect x="175.31" y="199.2" width="0.6" height="9.6" fill="#1a1a1a"/>
<rect x="177.52" y="199.2" width="2.26" height="9.6" fill="#d6dada"/>
<rect x="178.12" y="199.2" width="0.5" height="9.6" fill="#ffffff" opacity="0.6"/>
<rect x="177.52" y="199.2" width="0.6" height="9.6" fill="#1a1a1a"/>
<rect x="179.73" y="199.2" width="2.26" height="9.6" fill="#d6dada"/>
<rect x="180.33" y="199.2" width="0.5" height="9.6" fill="#ffffff" opacity="0.6"/>
<rect x="179.73" y="199.2" width="0.6" height="9.6" fill="#1a1a1a"/>
<rect x="181.94" y="199.2" width="2.26" height="9.6" fill="#d6dada"/>
<rect x="182.54" y="199.2" width="0.5" height="9.6" fill="#ffffff" opacity="0.6"/>
<rect x="181.94" y="199.2" width="0.6" height="9.6" fill="#1a1a1a"/>
<rect x="184.15" y="199.2" width="2.26" height="9.6" fill="#d6dada"/>
<rect x="184.75" y="199.2" width="0.5" height="9.6" fill="#ffffff" opacity="0.6"/>
<rect x="184.15" y="199.2" width="0.6" height="9.6" fill="#1a1a1a"/>
<rect x="186.37" y="199.2" width="2.26" height="9.6" fill="#d6dada"/>
<rect x="186.97" y="199.2" width="0.5" height="9.6" fill="#ffffff" opacity="0.6"/>
<rect x="186.37" y="199.2" width="0.6" height="9.6" fill="#1a1a1a"/>
<rect x="188.58" y="199.2" width="2.26" height="9.6" fill="#d6dada"/>
<rect x="189.18" y="199.2" width="0.5" height="9.6" fill="#ffffff" opacity="0.6"/>
<rect x="188.58" y="199.2" width="0.6" height="9.6" fill="#1a1a1a"/>
<rect x="190.79" y="199.2" width="2.26" height="9.6" fill="#d6dada"/>
<rect x="191.39" y="199.2" width="0.5" height="9.6" fill="#ffffff" opacity="0.6"/>
<rect x="190.79" y="199.2" width="0.6" height="9.6" fill="#1a1a1a"/>
<rect x="193" y="199.2" width="2.26" height="9.6" fill="#d6dada"/>
<rect x="193.6" y="199.2" width="0.5" height="9.6" fill="#ffffff" opacity="0.6"/>
<rect x="193" y="199.2" width="0.6" height="9.6" fill="#1a1a1a"/>
<rect x="195.21" y="199.2" width="2.26" height="9.6" fill="#d6dada"/>
<rect x="195.81" y="199.2" width="0.5" height="9.6" fill="#ffffff" opacity="0.6"/>
<rect x="195.21" y="199.2" width="0.6" height="9.6" fill="#1a1a1a"/>
<rect x="197.42" y="199.2" width="2.26" height="9.6" fill="#d6dada"/>
<rect x="198.02" y="199.2" width="0.5" height="9.6" fill="#ffffff" opacity="0.6"/>
<rect x="197.42" y="199.2" width="0.6" height="9.6" fill="#1a1a1a"/>
<rect x="199.63" y="199.2" width="2.26" height="9.6" fill="#d6dada"/>
<rect x="200.23" y="199.2" width="0.5" height="9.6" fill="#ffffff" opacity="0.6"/>
<rect x="199.63" y="199.2" width="0.6" height="9.6" fill="#1a1a1a"/>
<rect x="201.84" y="199.2" width="2.26" height="9.6" fill="#d6dada"/>
<rect x="202.44" y="199.2" width="0.5" height="9.6" fill="#ffffff" opacity="0.6"/>
<rect x="201.84" y="199.2" width="0.6" height="9.6" fill="#1a1a1a"/>
<rect x="204.05" y="199.2" width="2.26" height="9.6" fill="#d6dada"/>
<rect x="204.65" y="199.2" width="0.5" height="9.6" fill="#ffffff" opacity="0.6"/>
<rect x="204.05" y="199.2" width="0.6" height="9.6" fill="#1a1a1a"/>
<rect x="206.26" y="199.2" width="2.26" height="9.6" fill="#d6dada"/>
<rect x="206.86" y="199.2" width="0.5" height="9.6" fill="#ffffff" opacity="0.6"/>
<rect x="206.26" y="199.2" width="0.6" height="9.6" fill="#1a1a1a"/>
<rect x="208.47" y="199.2" width="2.26" height="9.6" fill="#d6dada"/>
<rect x="209.07" y="199.2" width="0.5" height="9.6" fill="#ffffff" opacity="0.6"/>
<rect x="208.47" y="199.2" width="0.6" height="9.6" fill="#1a1a1a"/>
<rect x="210.68" y="199.2" width="2.26" height="9.6" fill="#d6dada"/>
<rect x="211.28" y="199.2" width="0.5" height="9.6" fill="#ffffff" opacity="0.6"/>
<rect x="210.68" y="199.2" width="0.6" height="9.6" fill="#1a1a1a"/>
<rect x="212.89" y="199.2" width="2.26" height="9.6" fill="#d6dada"/>
<rect x="213.49" y="199.2" width="0.5" height="9.6" fill="#ffffff" opacity="0.6"/>
<rect x="212.89" y="199.2" width="0.6" height="9.6" fill="#1a1a1a"/>
<rect x="215.1" y="199.2" width="2.26" height="9.6" fill="#d6dada"/>
<rect x="215.7" y="199.2" width="0.5" height="9.6" fill="#ffffff" opacity="0.6"/>
<rect x="215.1" y="199.2" width="0.6" height="9.6" fill="#1a1a1a"/>
<rect x="217.31" y="199.2" width="2.26" height="9.6" fill="#d6dada"/>
<rect x="217.91" y="199.2" width="0.5" height="9.6" fill="#ffffff" opacity="0.6"/>
<rect x="217.31" y="199.2" width="0.6" height="9.6" fill="#1a1a1a"/>
<rect x="219.53" y="199.2" width="2.26" height="9.6" fill="#d6dada"/>
<rect x="220.13" y="199.2" width="0.5" height="9.6" fill="#ffffff" opacity="0.6"/>
<rect x="219.53" y="199.2" width="0.6" height="9.6" fill="#1a1a1a"/>
<rect x="221.74" y="199.2" width="2.26" height="9.6" fill="#d6dada"/>
<rect x="222.34" y="199.2" width="0.5" height="9.6" fill="#ffffff" opacity="0.6"/>
<rect x="221.74" y="199.2" width="0.6" height="9.6" fill="#1a1a1a"/>
<rect x="223.95" y="199.2" width="2.26" height="9.6" fill="#d6dada"/>
<rect x="224.55" y="199.2" width="0.5" height="9.6" fill="#ffffff" opacity="0.6"/>
<rect x="223.95" y="199.2" width="0.6" height="9.6" fill="#1a1a1a"/>
<rect x="226.16" y="199.2" width="2.26" height="9.6" fill="#d6dada"/>
<rect x="226.76" y="199.2" width="0.5" height="9.6" fill="#ffffff" opacity="0.6"/>
<rect x="226.16" y="199.2" width="0.6" height="9.6" fill="#1a1a1a"/>
<rect x="228.37" y="199.2" width="2.26" height="9.6" fill="#d6dada"/>
<rect x="228.97" y="199.2" width="0.5" height="9.6" fill="#ffffff" opacity="0.6"/>
<rect x="228.37" y="199.2" width="0.6" height="9.6" fill="#1a1a1a"/>
<rect x="230.58" y="199.2" width="2.26" height="9.6" fill="#d6dada"/>
<rect x="231.18" y="199.2" width="0.5" height="9.6" fill="#ffffff" opacity="0.6"/>
<rect x="230.58" y="199.2" width="0.6" height="9.6" fill="#1a1a1a"/>
<rect x="232.79" y="199.2" width="2.26" height="9.6" fill="#d6dada"/>
<rect x="233.39" y="199.2" width="0.5" height="9.6" fill="#ffffff" opacity="0.6"/>
<rect x="232.79" y="199.2" width="0.6" height="9.6" fill="#1a1a1a"/>
<line x1="19.2" y1="171.9" x2="235" y2="171.9" stroke="#111" stroke-width="0.9"/>
<line x1="19.2" y1="181.3" x2="235" y2="181.3" stroke="#111" stroke-width="0.9"/>
<line x1="19.2" y1="190.1" x2="235" y2="190.1" stroke="#111" stroke-width="0.9"/>
<line x1="19.2" y1="199.2" x2="235" y2="199.2" stroke="#111" stroke-width="0.9"/>
<line x1="19.2" y1="208.8" x2="235" y2="208.8" stroke="#111" stroke-width="0.9"/>
<line x1="19.2" y1="171.9" x2="19.2" y2="208.8" stroke="#111" stroke-width="0.9"/>
<line x1="69.2" y1="171.9" x2="69.2" y2="208.8" stroke="#111" stroke-width="0.9"/>
<line x1="235" y1="171.9" x2="235" y2="208.8" stroke="#111" stroke-width="0.9"/>
<text x="22" y="178.52" font-size="5.6" stroke="#111" stroke-width="0.17">Age</text>
<text x="22" y="187.8" font-size="5.6" fill="#111" textLength="43.6" lengthAdjust="spacingAndGlyphs"><tspan font-style="italic">MIR17HG</tspan> (chr13)</text>
<text x="22" y="197" font-size="5.6" fill="#111" textLength="39.6" lengthAdjust="spacingAndGlyphs">MIR106B (chr7)</text>
<text x="22" y="206.1" font-size="5.6" fill="#111" textLength="40.2" lengthAdjust="spacingAndGlyphs"><tspan font-style="italic">MIR106A</tspan> (chrX)</text>
<rect x="67.4" y="212.7" width="4" height="4" fill="#98102c"/>
<text x="74.8" y="216.89" font-size="5.8" fill="#222" stroke="#222" stroke-width="0.18" textLength="12.6" lengthAdjust="spacingAndGlyphs">Adult</text>
<rect x="94.2" y="212.7" width="4" height="4" fill="#2a3f72"/>
<text x="101.6" y="216.89" font-size="5.8" fill="#222" stroke="#222" stroke-width="0.18" textLength="10" lengthAdjust="spacingAndGlyphs">Ped</text>
<rect x="118.6" y="212.7" width="4" height="4" fill="#b87a72"/>
<text x="126" y="216.89" font-size="5.8" fill="#222" stroke="#222" stroke-width="0.18" textLength="23.4" lengthAdjust="spacingAndGlyphs">copy gain</text>
<rect x="154.4" y="212.7" width="4" height="4" fill="#5aa040"/>
<text x="161.8" y="216.89" font-size="5.8" fill="#222" stroke="#222" stroke-width="0.18" textLength="23.2" lengthAdjust="spacingAndGlyphs">copy loss</text>
<text x="252.2" y="166.64" font-size="11.5" font-weight="bold" fill="#000" stroke="#000" stroke-width="0.35">E</text>
<text x="314.8" y="179.23" font-size="7.3" text-anchor="middle" font-weight="bold" stroke="#111" stroke-width="0.22" textLength="83" lengthAdjust="spacingAndGlyphs">OAS by MIR17HG gain</text>
<text x="314.8" y="188.23" font-size="7.3" text-anchor="middle" font-weight="bold" stroke="#111" stroke-width="0.22" textLength="44" lengthAdjust="spacingAndGlyphs">in adult mBL</text>
<line x1="281.2" y1="194" x2="281.2" y2="258.8" stroke="#111" stroke-width="1.1"/>
<line x1="280.7" y1="258.8" x2="347" y2="258.8" stroke="#111" stroke-width="1.1"/>
<line x1="278.6" y1="256" x2="281.2" y2="256" stroke="#111" stroke-width="0.9"/>
<text x="275.3" y="258.52" font-size="7" text-anchor="end" fill="#222" stroke="#222" stroke-width="0.22">0.00</text>
<line x1="279.6" y1="248.62" x2="281.2" y2="248.62" stroke="#111" stroke-width="0.7"/>
<line x1="278.6" y1="241.25" x2="281.2" y2="241.25" stroke="#111" stroke-width="0.9"/>
<text x="275.3" y="243.77" font-size="7" text-anchor="end" fill="#222" stroke="#222" stroke-width="0.22">0.25</text>
<line x1="279.6" y1="233.88" x2="281.2" y2="233.88" stroke="#111" stroke-width="0.7"/>
<line x1="278.6" y1="226.5" x2="281.2" y2="226.5" stroke="#111" stroke-width="0.9"/>
<text x="275.3" y="229.02" font-size="7" text-anchor="end" fill="#222" stroke="#222" stroke-width="0.22">0.50</text>
<line x1="279.6" y1="219.12" x2="281.2" y2="219.12" stroke="#111" stroke-width="0.7"/>
<line x1="278.6" y1="211.75" x2="281.2" y2="211.75" stroke="#111" stroke-width="0.9"/>
<text x="275.3" y="214.27" font-size="7" text-anchor="end" fill="#222" stroke="#222" stroke-width="0.22">0.75</text>
<line x1="279.6" y1="204.38" x2="281.2" y2="204.38" stroke="#111" stroke-width="0.7"/>
<line x1="278.6" y1="197" x2="281.2" y2="197" stroke="#111" stroke-width="0.9"/>
<text x="275.3" y="199.52" font-size="7" text-anchor="end" fill="#222" stroke="#222" stroke-width="0.22">1.00</text>
<line x1="284.6" y1="258.8" x2="284.6" y2="261.3" stroke="#111" stroke-width="0.9"/>
<text x="284.6" y="270.98" font-size="6.6" text-anchor="middle" fill="#222" stroke="#222" stroke-width="0.2">0</text>
<line x1="306.4" y1="258.8" x2="306.4" y2="261.3" stroke="#111" stroke-width="0.9"/>
<text x="306.4" y="270.98" font-size="6.6" text-anchor="middle" fill="#222" stroke="#222" stroke-width="0.2">100</text>
<line x1="328.2" y1="258.8" x2="328.2" y2="261.3" stroke="#111" stroke-width="0.9"/>
<text x="328.2" y="270.98" font-size="6.6" text-anchor="middle" fill="#222" stroke="#222" stroke-width="0.2">200</text>
<line x1="295.5" y1="258.8" x2="295.5" y2="260.3" stroke="#111" stroke-width="0.7"/>
<line x1="317.3" y1="258.8" x2="317.3" y2="260.3" stroke="#111" stroke-width="0.7"/>
<line x1="339.1" y1="258.8" x2="339.1" y2="260.3" stroke="#111" stroke-width="0.7"/>
<text x="314.6" y="283.76" font-size="9.6" text-anchor="middle" fill="#222" stroke="#222" stroke-width="0.3" textLength="29.5" lengthAdjust="spacingAndGlyphs">Months</text>
<path d="M284.6 197 V216.65 H286.6 V221.6 H307.3 V230.04 H344.4" stroke="#3a4f7a" stroke-width="1.1" fill="none"/>
<line x1="291.14" y1="220.6" x2="291.14" y2="222.6" stroke="#3a4f7a" stroke-width="0.8"/>
<line x1="297.68" y1="220.6" x2="297.68" y2="222.6" stroke="#3a4f7a" stroke-width="0.8"/>
<line x1="310.76" y1="229.04" x2="310.76" y2="231.04" stroke="#3a4f7a" stroke-width="0.8"/>
<line x1="328.2" y1="229.04" x2="328.2" y2="231.04" stroke="#3a4f7a" stroke-width="0.8"/>
<line x1="342.37" y1="229.04" x2="342.37" y2="231.04" stroke="#3a4f7a" stroke-width="0.8"/>
<path d="M285.7 197 V247.56 H289.4" stroke="#b0405a" stroke-width="1.1" fill="none"/>
<line x1="289.4" y1="246.56" x2="289.4" y2="248.56" stroke="#111" stroke-width="0.8"/>
<line x1="287.6" y1="200.8" x2="297.8" y2="200.8" stroke="#b0405a" stroke-width="1.2"/>
<line x1="287.6" y1="209.7" x2="297.8" y2="209.7" stroke="#3a4f7a" stroke-width="1.2"/>
<text x="299.3" y="202.96" font-size="6" fill="#222" stroke="#222" stroke-width="0.18" textLength="51.2" lengthAdjust="spacingAndGlyphs">MIR17HG gain (n=7)</text>
<text x="299.3" y="211.86" font-size="6" fill="#222" stroke="#222" stroke-width="0.18" textLength="52.7" lengthAdjust="spacingAndGlyphs">MIR17HG WT (n=12)</text>
<text x="319.2" y="256.69" font-size="5.8" fill="#222" stroke="#222" stroke-width="0.18" textLength="21.6" lengthAdjust="spacingAndGlyphs">p= 0.049</text>
<text x="7.8" y="313.24" font-size="11.5" font-weight="bold" fill="#000" stroke="#000" stroke-width="0.35">G</text>
<path d="M59.9 430.2H61.15V390.4H59.9ZM61.1 430.2H63.65V415.5H61.1ZM63.6 430.2H65.55V392H63.6ZM65.5 430.2H67.45V395H65.5ZM67.4 430.2H69.05V415.5H67.4ZM69 430.2H70.55V420.2H69ZM70.5 430.2H71.85V421.8H70.5ZM71.8 430.2H73.75V362.2H71.8ZM73.7 430.2H75.05V411.6H73.7ZM75 430.2H76.55V412.4H75ZM76.5 430.2H77.65V413.1H76.5ZM77.6 430.2H79.65V399H77.6ZM79.6 430.2H81.55V421H79.6ZM81.5 430.2H83.45V393.5H81.5ZM85.5 430.2H87.85V355.9H85.5ZM87.8 430.2H89.45V383.3H87.8ZM89.4 430.2H91.75V406H89.4ZM91.7 430.2H93.85V338.6H91.7ZM93.8 430.2H95.35V405.3H93.8ZM95.3 430.2H96.35V395.9H95.3ZM96.3 430.2H98.15V403.7H96.3ZM98.1 430.2H100.25V398.2H98.1ZM100.2 430.2H102.15V394H100.2ZM102.1 430.2H104.15V391.2H102.1ZM104.1 430.2H106.05V411.6H104.1ZM106 430.2H108.05V391.2H106ZM108 430.2H110.25V389.3H108ZM110.2 430.2H112.35V399.8H110.2ZM112.3 430.2H114.15V406.9H112.3ZM114.1 430.2H116.35V379.9H114.1ZM116.3 430.2H118.25V397.5H116.3ZM118.2 430.2H120.15V386.2H118.2ZM120.1 430.2H122.45V410.8H120.1ZM122.4 430.2H125.05V385H122.4ZM125 430.2H127.05V419H125ZM127 430.2H129.55V398.7H127ZM129.5 430.2H131.45V403.2H129.5ZM131.4 430.2H133.35V423.4H131.4ZM133.3 430.2H134.95V418.4H133.3ZM134.9 430.2H137.15V360.1H134.9ZM137.1 430.2H139.05V427.2H137.1ZM139 430.2H140.95V407.6H139ZM140.9 430.2H142.85V400H140.9ZM142.8 430.2H145.05V387.3H142.8ZM145 430.2H147.25V415.2H145ZM147.2 430.2H149.35V368.4H147.2ZM149.3 430.2H150.85V408.4H149.3ZM150.8 430.2H153.25V412.4H150.8ZM153.2 430.2H155.55V403H153.2ZM155.5 430.2H157.45V414H155.5ZM159.9 430.2H161.85V420.2H159.9ZM161.8 430.2H163.45V385.7H161.8ZM163.4 430.2H165.35V377H163.4ZM165.3 430.2H167.35V391.2H165.3ZM167.3 430.2H169.95V417.8H167.3ZM169.9 430.2H171.95V406.9H169.9ZM171.9 430.2H174.05V422.5H171.9ZM174 430.2H175.85V397.5H174ZM175.8 430.2H177.75V388H175.8ZM177.7 430.2H179.85V425.7H177.7ZM179.8 430.2H181.85V418.6H179.8ZM181.8 430.2H183.75V421H181.8ZM183.7 430.2H185.65V388H183.7ZM185.6 430.2H187.65V415.5H185.6ZM187.6 430.2H190.05V415.5H187.6ZM190 430.2H192.35V407.6H190ZM192.3 430.2H193.95V421H192.3ZM193.9 430.2H195.95V377.8H193.9ZM195.9 430.2H198.15V390.4H195.9ZM198.1 430.2H199.85V428H198.1ZM200.8 430.2H203.75V399.8H200.8Z" fill="#2d4a84"/>
<line x1="204.3" y1="334.2" x2="204.3" y2="430.2" stroke="#111" stroke-width="1.1"/>
<line x1="59.8" y1="329.5" x2="59.8" y2="430.7" stroke="#111" stroke-width="1.1"/>
<line x1="59.8" y1="430.2" x2="204.3" y2="430.2" stroke="#1b2a50" stroke-width="0.6"/>
<line x1="56.6" y1="430.2" x2="59.8" y2="430.2" stroke="#111" stroke-width="0.8"/>
<text x="53.8" y="432.36" font-size="6" text-anchor="end" fill="#222" stroke="#222" stroke-width="0.18">1</text>
<line x1="58" y1="426.36" x2="59.8" y2="426.36" stroke="#111" stroke-width="0.6"/>
<line x1="58" y1="422.52" x2="59.8" y2="422.52" stroke="#111" stroke-width="0.6"/>
<line x1="58" y1="418.68" x2="59.8" y2="418.68" stroke="#111" stroke-width="0.6"/>
<line x1="58" y1="414.84" x2="59.8" y2="414.84" stroke="#111" stroke-width="0.6"/>
<line x1="56.6" y1="411" x2="59.8" y2="411" stroke="#111" stroke-width="0.8"/>
<text x="53.8" y="413.16" font-size="6" text-anchor="end" fill="#222" stroke="#222" stroke-width="0.18">1.5</text>
<line x1="58" y1="407.16" x2="59.8" y2="407.16" stroke="#111" stroke-width="0.6"/>
<line x1="58" y1="403.32" x2="59.8" y2="403.32" stroke="#111" stroke-width="0.6"/>
<line x1="58" y1="399.48" x2="59.8" y2="399.48" stroke="#111" stroke-width="0.6"/>
<line x1="58" y1="395.64" x2="59.8" y2="395.64" stroke="#111" stroke-width="0.6"/>
<line x1="56.6" y1="391.8" x2="59.8" y2="391.8" stroke="#111" stroke-width="0.8"/>
<text x="53.8" y="393.96" font-size="6" text-anchor="end" fill="#222" stroke="#222" stroke-width="0.18">2</text>
<line x1="58" y1="387.96" x2="59.8" y2="387.96" stroke="#111" stroke-width="0.6"/>
<line x1="58" y1="384.12" x2="59.8" y2="384.12" stroke="#111" stroke-width="0.6"/>
<line x1="58" y1="380.28" x2="59.8" y2="380.28" stroke="#111" stroke-width="0.6"/>
<line x1="58" y1="376.44" x2="59.8" y2="376.44" stroke="#111" stroke-width="0.6"/>
<line x1="56.6" y1="372.6" x2="59.8" y2="372.6" stroke="#111" stroke-width="0.8"/>
<text x="53.8" y="374.76" font-size="6" text-anchor="end" fill="#222" stroke="#222" stroke-width="0.18">2.5</text>
<line x1="58" y1="368.76" x2="59.8" y2="368.76" stroke="#111" stroke-width="0.6"/>
<line x1="58" y1="364.92" x2="59.8" y2="364.92" stroke="#111" stroke-width="0.6"/>
<line x1="58" y1="361.08" x2="59.8" y2="361.08" stroke="#111" stroke-width="0.6"/>
<line x1="58" y1="357.24" x2="59.8" y2="357.24" stroke="#111" stroke-width="0.6"/>
<line x1="56.6" y1="353.4" x2="59.8" y2="353.4" stroke="#111" stroke-width="0.8"/>
<text x="53.8" y="355.56" font-size="6" text-anchor="end" fill="#222" stroke="#222" stroke-width="0.18">3</text>
<line x1="58" y1="349.56" x2="59.8" y2="349.56" stroke="#111" stroke-width="0.6"/>
<line x1="58" y1="345.72" x2="59.8" y2="345.72" stroke="#111" stroke-width="0.6"/>
<line x1="58" y1="341.88" x2="59.8" y2="341.88" stroke="#111" stroke-width="0.6"/>
<line x1="58" y1="338.04" x2="59.8" y2="338.04" stroke="#111" stroke-width="0.6"/>
<line x1="56.6" y1="334.2" x2="59.8" y2="334.2" stroke="#111" stroke-width="0.8"/>
<text x="53.8" y="336.36" font-size="6" text-anchor="end" fill="#222" stroke="#222" stroke-width="0.18">3.5</text>
<text x="24.8" y="382.58" font-size="9.4" text-anchor="middle" fill="#222" stroke="#222" stroke-width="0.29" textLength="92" lengthAdjust="spacingAndGlyphs" transform="rotate(-90 24.8 379.2)">Fold increas in expression</text>
<text x="35.6" y="383.38" font-size="9.4" text-anchor="middle" fill="#222" stroke="#222" stroke-width="0.29" textLength="42.5" lengthAdjust="spacingAndGlyphs" transform="rotate(-90 35.6 380)">(gain vs wt)</text>
<text x="63.8" y="361.39" font-size="5.8" fill="#222" stroke="#222" stroke-width="0.18" textLength="18.2" lengthAdjust="spacingAndGlyphs">CPNE3</text>
<text x="80.5" y="337.59" font-size="5.8" fill="#222" stroke="#222" stroke-width="0.18" textLength="25.8" lengthAdjust="spacingAndGlyphs">TP53INP1</text>
<text x="108.8" y="377.59" font-size="5.8" fill="#222" stroke="#222" stroke-width="0.18" textLength="13.7" lengthAdjust="spacingAndGlyphs">UBR5</text>
<text x="128.6" y="358.49" font-size="5.8" fill="#222" stroke="#222" stroke-width="0.18" textLength="15.3" lengthAdjust="spacingAndGlyphs">MTBP</text>
<text x="158" y="375.09" font-size="5.8" fill="#222" stroke="#222" stroke-width="0.18" textLength="13.7" lengthAdjust="spacingAndGlyphs">PTK2</text>
<text x="168.3" y="381.69" font-size="5.8" fill="#222" stroke="#222" stroke-width="0.18" textLength="17.7" lengthAdjust="spacingAndGlyphs">EEF1D</text>
<text x="177.6" y="387.29" font-size="5.8" fill="#222" stroke="#222" stroke-width="0.18" textLength="21.4" lengthAdjust="spacingAndGlyphs">PARP10</text>
<text x="182.2" y="375.09" font-size="5.8" fill="#222" stroke="#222" stroke-width="0.18" textLength="24.6" lengthAdjust="spacingAndGlyphs">SHARPIN</text>
<text x="221.6" y="313.04" font-size="11.5" font-weight="bold" fill="#000" stroke="#000" stroke-width="0.35">H</text>
<text x="306" y="323.49" font-size="7.2" text-anchor="middle" font-weight="bold" stroke="#111" stroke-width="0.22" textLength="51" lengthAdjust="spacingAndGlyphs">All mBL cases</text>
<line x1="261.2" y1="328" x2="261.2" y2="430.2" stroke="#111" stroke-width="1.1"/>
<line x1="260.7" y1="429.7" x2="351.5" y2="429.7" stroke="#111" stroke-width="1.1"/>
<line x1="258.4" y1="400.8" x2="261.2" y2="400.8" stroke="#111" stroke-width="0.9"/>
<text x="255.2" y="403.1" font-size="6.4" text-anchor="end" fill="#222" stroke="#222" stroke-width="0.2">8</text>
<line x1="258.4" y1="369.1" x2="261.2" y2="369.1" stroke="#111" stroke-width="0.9"/>
<text x="255.2" y="371.4" font-size="6.4" text-anchor="end" fill="#222" stroke="#222" stroke-width="0.2">10</text>
<line x1="258.4" y1="337.4" x2="261.2" y2="337.4" stroke="#111" stroke-width="0.9"/>
<text x="255.2" y="339.7" font-size="6.4" text-anchor="end" fill="#222" stroke="#222" stroke-width="0.2">12</text>
<text x="239" y="382.06" font-size="9.6" text-anchor="middle" fill="#222" stroke="#222" stroke-width="0.3" textLength="105" lengthAdjust="spacingAndGlyphs" transform="rotate(-90 239 378.6)">MYC mRNA (log2 expression)</text>
<line x1="271.6" y1="358.1" x2="271.6" y2="379.9" stroke="#0a0a0a" stroke-width="1"/>
<line x1="271.6" y1="413.3" x2="271.6" y2="425.8" stroke="#0a0a0a" stroke-width="1"/>
<rect x="265" y="379.9" width="13.2" height="33.4" fill="none" stroke="#0a0a0a" stroke-width="1"/>
<line x1="265" y1="401.3" x2="278.2" y2="401.3" stroke="#0a0a0a" stroke-width="1"/>
<line x1="288.75" y1="332.2" x2="288.75" y2="344.7" stroke="#0a0a0a" stroke-width="1"/>
<line x1="288.75" y1="358.7" x2="288.75" y2="379" stroke="#0a0a0a" stroke-width="1"/>
<rect x="282" y="344.7" width="13.5" height="14" fill="none" stroke="#0a0a0a" stroke-width="1"/>
<line x1="282" y1="355.4" x2="295.5" y2="355.4" stroke="#0a0a0a" stroke-width="1"/>
<rect x="288.15" y="352.25" width="1.3" height="1.3" fill="#a01030"/>
<rect x="288" y="373.02" width="1.3" height="1.3" fill="#a01030"/>
<rect x="288.19" y="354.7" width="1.3" height="1.3" fill="#a01030"/>
<rect x="288.07" y="340.48" width="1.3" height="1.3" fill="#a01030"/>
<rect x="288.52" y="360.06" width="1.3" height="1.3" fill="#a01030"/>
<rect x="287.74" y="336.49" width="1.3" height="1.3" fill="#a01030"/>
<rect x="288.55" y="336.34" width="1.3" height="1.3" fill="#a01030"/>
<rect x="287.32" y="362.86" width="1.3" height="1.3" fill="#a01030"/>
<rect x="288.79" y="375.57" width="1.3" height="1.3" fill="#a01030"/>
<rect x="288.23" y="361.12" width="1.3" height="1.3" fill="#a01030"/>
<rect x="287.27" y="339.28" width="1.3" height="1.3" fill="#a01030"/>
<rect x="287.35" y="355.6" width="1.3" height="1.3" fill="#a01030"/>
<rect x="287.64" y="340.72" width="1.3" height="1.3" fill="#a01030"/>
<rect x="287.99" y="333.67" width="1.3" height="1.3" fill="#a01030"/>
<rect x="288.6" y="351.73" width="1.3" height="1.3" fill="#a01030"/>
<rect x="288.27" y="355.19" width="1.3" height="1.3" fill="#a01030"/>
<rect x="288.31" y="354.34" width="1.3" height="1.3" fill="#a01030"/>
<rect x="287.7" y="352.47" width="1.3" height="1.3" fill="#a01030"/>
<rect x="288.84" y="376.25" width="1.3" height="1.3" fill="#a01030"/>
<rect x="288.38" y="369.32" width="1.3" height="1.3" fill="#a01030"/>
<rect x="287.62" y="346.22" width="1.3" height="1.3" fill="#a01030"/>
<rect x="287.36" y="345.07" width="1.3" height="1.3" fill="#a01030"/>
<rect x="287.89" y="366.07" width="1.3" height="1.3" fill="#a01030"/>
<rect x="287.87" y="369.6" width="1.3" height="1.3" fill="#a01030"/>
<rect x="288.61" y="374.5" width="1.3" height="1.3" fill="#a01030"/>
<rect x="287.59" y="332.37" width="1.3" height="1.3" fill="#a01030"/>
<line x1="300" y1="370" x2="312.8" y2="370" stroke="#222" stroke-width="1.4"/>
<line x1="300.5" y1="370" x2="312.3" y2="370" stroke="#a01838" stroke-width="0.8"/>
<line x1="317" y1="356.6" x2="329.8" y2="356.6" stroke="#222" stroke-width="1.4"/>
<line x1="317.5" y1="356.6" x2="329.3" y2="356.6" stroke="#a01838" stroke-width="0.8"/>
<line x1="334.2" y1="344.7" x2="347" y2="344.7" stroke="#222" stroke-width="1.4"/>
<line x1="334.7" y1="344.7" x2="346.5" y2="344.7" stroke="#a01838" stroke-width="0.8"/>
<text x="271.6" y="445.28" font-size="6.6" text-anchor="middle" fill="#222" stroke="#222" stroke-width="0.2" textLength="11.4" lengthAdjust="spacingAndGlyphs" transform="rotate(-90 271.6 442.9)">gain</text>
<line x1="271" y1="429.7" x2="271" y2="431.9" stroke="#111" stroke-width="0.9"/>
<text x="289" y="442.58" font-size="6.6" text-anchor="middle" fill="#222" stroke="#222" stroke-width="0.2" textLength="6" lengthAdjust="spacingAndGlyphs" transform="rotate(-90 289 440.2)">wt</text>
<line x1="288.4" y1="429.7" x2="288.4" y2="431.9" stroke="#111" stroke-width="0.9"/>
<text x="306.3" y="443.58" font-size="6.6" text-anchor="middle" fill="#222" stroke="#222" stroke-width="0.2" textLength="8" lengthAdjust="spacingAndGlyphs" transform="rotate(-90 306.3 441.2)">CB</text>
<line x1="305.7" y1="429.7" x2="305.7" y2="431.9" stroke="#111" stroke-width="0.9"/>
<text x="323.6" y="454.78" font-size="6.6" text-anchor="middle" fill="#222" stroke="#222" stroke-width="0.2" textLength="30.4" lengthAdjust="spacingAndGlyphs" transform="rotate(-90 323.6 452.4)">CD77-neg</text>
<line x1="323" y1="429.7" x2="323" y2="431.9" stroke="#111" stroke-width="0.9"/>
<text x="340.6" y="446.08" font-size="6.6" text-anchor="middle" fill="#222" stroke="#222" stroke-width="0.2" textLength="13" lengthAdjust="spacingAndGlyphs" transform="rotate(-90 340.6 443.7)">NBC</text>
<line x1="340" y1="429.7" x2="340" y2="431.9" stroke="#111" stroke-width="0.9"/>
<line x1="268" y1="452" x2="292.3" y2="452" stroke="#111" stroke-width="0.9"/>
<text x="280.7" y="461.19" font-size="7.2" text-anchor="middle" fill="#222" stroke="#222" stroke-width="0.22" textLength="25.4" lengthAdjust="spacingAndGlyphs">MYC CN</text>
<text x="397.3" y="314.29" font-size="7.2" text-anchor="middle" font-weight="bold" stroke="#111" stroke-width="0.22" textLength="44" lengthAdjust="spacingAndGlyphs">Adult v. Ped</text>
<text x="397.3" y="322.59" font-size="7.2" text-anchor="middle" font-weight="bold" stroke="#111" stroke-width="0.22" textLength="19.5" lengthAdjust="spacingAndGlyphs">mBLs</text>
<line x1="374.5" y1="327" x2="374.5" y2="430.2" stroke="#111" stroke-width="1.1"/>
<line x1="374" y1="429.7" x2="419.4" y2="429.7" stroke="#111" stroke-width="1.1"/>
<line x1="371.7" y1="400.8" x2="374.5" y2="400.8" stroke="#111" stroke-width="0.9"/>
<text x="369.4" y="403.1" font-size="6.4" text-anchor="end" fill="#222" stroke="#222" stroke-width="0.2">8</text>
<line x1="371.7" y1="369.3" x2="374.5" y2="369.3" stroke="#111" stroke-width="0.9"/>
<text x="369.4" y="371.6" font-size="6.4" text-anchor="end" fill="#222" stroke="#222" stroke-width="0.2">10</text>
<line x1="371.7" y1="337.8" x2="374.5" y2="337.8" stroke="#111" stroke-width="0.9"/>
<text x="369.4" y="340.1" font-size="6.4" text-anchor="end" fill="#222" stroke="#222" stroke-width="0.2">12</text>
<line x1="386.9" y1="336.3" x2="386.9" y2="346.2" stroke="#0a0a0a" stroke-width="1"/>
<line x1="386.9" y1="373.2" x2="386.9" y2="401.2" stroke="#0a0a0a" stroke-width="1"/>
<rect x="379.1" y="346.2" width="15.6" height="27" fill="none" stroke="#0a0a0a" stroke-width="1"/>
<line x1="379.1" y1="357.9" x2="394.7" y2="357.9" stroke="#0a0a0a" stroke-width="1"/>
<line x1="407.15" y1="331.7" x2="407.15" y2="345.4" stroke="#0a0a0a" stroke-width="1"/>
<line x1="407.15" y1="359.2" x2="407.15" y2="371.4" stroke="#0a0a0a" stroke-width="1"/>
<rect x="399.1" y="345.4" width="16.1" height="13.8" fill="none" stroke="#0a0a0a" stroke-width="1"/>
<line x1="399.1" y1="354.5" x2="415.2" y2="354.5" stroke="#0a0a0a" stroke-width="1"/>
<rect x="386.4" y="425" width="0.9" height="0.9" fill="#333"/>
<rect x="406.7" y="378.8" width="0.9" height="0.9" fill="#333"/>
<rect x="386" y="371.59" width="1.3" height="1.3" fill="#a01030"/>
<rect x="385.9" y="374.25" width="1.3" height="1.3" fill="#a01030"/>
<rect x="386.24" y="339.78" width="1.3" height="1.3" fill="#a01030"/>
<rect x="385.7" y="366.58" width="1.3" height="1.3" fill="#a01030"/>
<rect x="385.8" y="340.31" width="1.3" height="1.3" fill="#a01030"/>
<rect x="386.44" y="373.63" width="1.3" height="1.3" fill="#a01030"/>
<rect x="385.67" y="341.48" width="1.3" height="1.3" fill="#a01030"/>
<rect x="385.39" y="340.84" width="1.3" height="1.3" fill="#a01030"/>
<rect x="385.57" y="367.29" width="1.3" height="1.3" fill="#a01030"/>
<rect x="385.97" y="358.25" width="1.3" height="1.3" fill="#a01030"/>
<rect x="386.4" y="344.25" width="1.3" height="1.3" fill="#a01030"/>
<rect x="386.27" y="341.98" width="1.3" height="1.3" fill="#a01030"/>
<rect x="385.93" y="341.43" width="1.3" height="1.3" fill="#a01030"/>
<rect x="385.7" y="345.09" width="1.3" height="1.3" fill="#a01030"/>
<rect x="386.51" y="373.9" width="1.3" height="1.3" fill="#a01030"/>
<rect x="386.63" y="348.56" width="1.3" height="1.3" fill="#a01030"/>
<rect x="406.09" y="340.43" width="1.3" height="1.3" fill="#a01030"/>
<rect x="406.46" y="366.18" width="1.3" height="1.3" fill="#a01030"/>
<rect x="406.98" y="336.01" width="1.3" height="1.3" fill="#a01030"/>
<rect x="405.89" y="340.53" width="1.3" height="1.3" fill="#a01030"/>
<rect x="405.99" y="362.91" width="1.3" height="1.3" fill="#a01030"/>
<rect x="405.61" y="343.85" width="1.3" height="1.3" fill="#a01030"/>
<rect x="406.37" y="335.6" width="1.3" height="1.3" fill="#a01030"/>
<rect x="406.4" y="341.72" width="1.3" height="1.3" fill="#a01030"/>
<rect x="406.18" y="346.87" width="1.3" height="1.3" fill="#a01030"/>
<rect x="406.23" y="370.37" width="1.3" height="1.3" fill="#a01030"/>
<rect x="406.8" y="354.98" width="1.3" height="1.3" fill="#a01030"/>
<rect x="405.73" y="339.31" width="1.3" height="1.3" fill="#a01030"/>
<rect x="406.73" y="368.34" width="1.3" height="1.3" fill="#a01030"/>
<rect x="405.78" y="341.98" width="1.3" height="1.3" fill="#a01030"/>
<rect x="406.91" y="361.58" width="1.3" height="1.3" fill="#a01030"/>
<rect x="406.93" y="339.86" width="1.3" height="1.3" fill="#a01030"/>
<rect x="406.41" y="367.29" width="1.3" height="1.3" fill="#a01030"/>
<rect x="405.66" y="348.86" width="1.3" height="1.3" fill="#a01030"/>
<rect x="406.94" y="333.55" width="1.3" height="1.3" fill="#a01030"/>
<rect x="406.56" y="341.54" width="1.3" height="1.3" fill="#a01030"/>
<rect x="406.74" y="342.28" width="1.3" height="1.3" fill="#a01030"/>
<rect x="405.94" y="355.86" width="1.3" height="1.3" fill="#a01030"/>
<rect x="406.58" y="339.02" width="1.3" height="1.3" fill="#a01030"/>
<rect x="405.84" y="334.75" width="1.3" height="1.3" fill="#a01030"/>
<rect x="406.78" y="354.37" width="1.3" height="1.3" fill="#a01030"/>
<rect x="405.92" y="356.57" width="1.3" height="1.3" fill="#a01030"/>
<rect x="405.81" y="368.69" width="1.3" height="1.3" fill="#a01030"/>
<rect x="405.9" y="332.66" width="1.3" height="1.3" fill="#a01030"/>
<rect x="405.59" y="349.83" width="1.3" height="1.3" fill="#a01030"/>
<rect x="406.05" y="339.05" width="1.3" height="1.3" fill="#a01030"/>
<line x1="386.9" y1="429.7" x2="386.9" y2="431.9" stroke="#111" stroke-width="0.9"/>
<line x1="407.2" y1="429.7" x2="407.2" y2="431.9" stroke="#111" stroke-width="0.9"/>
<text x="386.7" y="445" font-size="6.4" text-anchor="middle" fill="#222" stroke="#222" stroke-width="0.2" textLength="18.8" lengthAdjust="spacingAndGlyphs" transform="rotate(-90 386.7 442.7)">Adult</text>
<text x="407" y="443" font-size="6.4" text-anchor="middle" fill="#222" stroke="#222" stroke-width="0.2" textLength="14.8" lengthAdjust="spacingAndGlyphs" transform="rotate(-90 407 440.7)">Ped</text>
<text x="8.3" y="493.84" font-size="11.5" font-weight="bold" fill="#000" stroke="#000" stroke-width="0.35">I</text>
<text x="127.6" y="503.38" font-size="6.6" text-anchor="middle" stroke="#111" stroke-width="0.2" textLength="16.5" lengthAdjust="spacingAndGlyphs">Adult</text>
<rect x="22.8" y="507.9" width="211" height="1.3" fill="#111"/>
<text x="17.2" y="539.98" font-size="6.6" text-anchor="middle" fill="#222" stroke="#222" stroke-width="0.2" textLength="51" lengthAdjust="spacingAndGlyphs" transform="rotate(-90 17.2 537.6)">MYC Gain Cases</text>
<text x="17.2" y="599.78" font-size="6.6" text-anchor="middle" fill="#222" stroke="#222" stroke-width="0.2" textLength="52" lengthAdjust="spacingAndGlyphs" transform="rotate(-90 17.2 597.4)">MYC CN=2 Cases</text>
<rect x="23" y="511.6" width="68.6" height="50.8" filter="url(#t1)"/>
<rect x="23" y="511.6" width="68.6" height="50.8" filter="url(#s1)"/>
<rect x="94.4" y="511.6" width="67.6" height="50.8" filter="url(#t2)"/>
<rect x="94.4" y="511.6" width="67.6" height="50.8" filter="url(#s2)"/>
<rect x="165.5" y="511.6" width="68.5" height="50.8" filter="url(#t3)"/>
<rect x="165.5" y="511.6" width="68.5" height="50.8" filter="url(#s3)"/>
<circle cx="193.2" cy="531.0" r="4.6" fill="#fbfbff"/>
<circle cx="211.2" cy="530.2" r="2.8" fill="#fbfbff"/>
<rect x="23" y="572" width="68.6" height="50.8" filter="url(#t4)"/>
<rect x="23" y="572" width="68.6" height="50.8" filter="url(#s4)"/>
<rect x="94.4" y="572" width="67.6" height="50.8" filter="url(#t5)"/>
<rect x="94.4" y="572" width="67.6" height="50.8" filter="url(#s5)"/>
<path d="M94.4 591 L95.5 588 L97 585.5 L98.2 582.5 L100.5 580 L103 577.5 L105.5 575 L107.8 572 L104.2 572 L102.3 574.6 L99.5 577.2 L97.2 579.8 L95.8 582.6 L94.4 585.5 Z" fill="#f2f0f6"/>
<rect x="165.5" y="572" width="68.5" height="50.8" filter="url(#t6)"/>
<rect x="165.5" y="572" width="68.5" height="50.8" filter="url(#s6)"/>
<text x="249" y="494.84" font-size="11.5" font-weight="bold" fill="#000" stroke="#000" stroke-width="0.35">J</text>
<text x="259.8" y="504.46" font-size="6" fill="#222" stroke="#222" stroke-width="0.18" textLength="88.4" lengthAdjust="spacingAndGlyphs">MYC_OVEREXPRESSION_2X_UP</text>
<text x="259.8" y="511.46" font-size="6" fill="#222" stroke="#222" stroke-width="0.18" textLength="16.9" lengthAdjust="spacingAndGlyphs">p=0.04</text>
<text x="259.8" y="518.26" font-size="6" fill="#222" stroke="#222" stroke-width="0.18" textLength="25.4" lengthAdjust="spacingAndGlyphs">FDR=0.88</text>
<text x="272.3" y="525.26" font-size="4.6" font-weight="bold" stroke="#111" stroke-width="0.14" textLength="106.5" lengthAdjust="spacingAndGlyphs">Enrichment plot: MYC_OVEREXPRESSION_2X_UP</text>
<line x1="276.3" y1="534.2" x2="370.6" y2="534.2" stroke="#d8d8d8" stroke-width="0.5"/>
<line x1="276.3" y1="572.8" x2="370.6" y2="572.8" stroke="#d0d0d0" stroke-width="0.5"/>
<line x1="290.5" y1="573" x2="290.5" y2="587.4" stroke="#6a6a6a" stroke-width="0.5"/>
<line x1="308.9" y1="573" x2="308.9" y2="587.4" stroke="#6a6a6a" stroke-width="0.5"/>
<line x1="313.7" y1="573" x2="313.7" y2="587.4" stroke="#6a6a6a" stroke-width="0.5"/>
<line x1="315.6" y1="573" x2="315.6" y2="587.4" stroke="#6a6a6a" stroke-width="0.5"/>
<line x1="318.8" y1="573" x2="318.8" y2="587.4" stroke="#6a6a6a" stroke-width="0.5"/>
<line x1="320.9" y1="573" x2="320.9" y2="587.4" stroke="#6a6a6a" stroke-width="0.5"/>
<line x1="323.1" y1="573" x2="323.1" y2="587.4" stroke="#6a6a6a" stroke-width="0.5"/>
<line x1="326.7" y1="573" x2="326.7" y2="587.4" stroke="#6a6a6a" stroke-width="0.5"/>
<line x1="332.5" y1="573" x2="332.5" y2="587.4" stroke="#6a6a6a" stroke-width="0.5"/>
<line x1="333.9" y1="573" x2="333.9" y2="587.4" stroke="#6a6a6a" stroke-width="0.5"/>
<line x1="337.2" y1="573" x2="337.2" y2="587.4" stroke="#6a6a6a" stroke-width="0.5"/>
<line x1="340.4" y1="573" x2="340.4" y2="587.4" stroke="#6a6a6a" stroke-width="0.5"/>
<line x1="342.6" y1="573" x2="342.6" y2="587.4" stroke="#6a6a6a" stroke-width="0.5"/>
<line x1="344" y1="573" x2="344" y2="587.4" stroke="#6a6a6a" stroke-width="0.5"/>
<line x1="346.9" y1="573" x2="346.9" y2="587.4" stroke="#6a6a6a" stroke-width="0.5"/>
<line x1="351.2" y1="573" x2="351.2" y2="587.4" stroke="#6a6a6a" stroke-width="0.5"/>
<line x1="352.2" y1="573" x2="352.2" y2="587.4" stroke="#6a6a6a" stroke-width="0.5"/>
<line x1="357.7" y1="573" x2="357.7" y2="587.4" stroke="#6a6a6a" stroke-width="0.5"/>
<line x1="359.9" y1="573" x2="359.9" y2="587.4" stroke="#6a6a6a" stroke-width="0.5"/>
<line x1="362" y1="573" x2="362" y2="587.4" stroke="#6a6a6a" stroke-width="0.5"/>
<line x1="365.6" y1="573" x2="365.6" y2="587.4" stroke="#6a6a6a" stroke-width="0.5"/>
<line x1="310.5" y1="573" x2="310.5" y2="587.4" stroke="#6a6a6a" stroke-width="0.5"/>
<line x1="328.2" y1="573" x2="328.2" y2="587.4" stroke="#6a6a6a" stroke-width="0.5"/>
<line x1="335.5" y1="573" x2="335.5" y2="587.4" stroke="#6a6a6a" stroke-width="0.5"/>
<line x1="348.6" y1="573" x2="348.6" y2="587.4" stroke="#6a6a6a" stroke-width="0.5"/>
<rect x="276.5" y="587.6" width="94.1" height="3.8" fill="url(#cb)"/>
<text x="280" y="593.94" font-size="2.6" fill="#c04050" stroke="#c04050" stroke-width="0.08" textLength="22" lengthAdjust="spacingAndGlyphs">'na_pos' (positively correlated)</text>
<path d="M276.6 603.8 L276.6 599.2 C 282 600.5, 292 602, 305 602.8 L 340 604.5 C 355 605.5, 364 606, 368 607 L 370.6 609.5 L 370.6 603.8 Z" fill="#d2d2d2" stroke="#b8b8b8" stroke-width="0.4"/>
<line x1="276.3" y1="603.8" x2="370.6" y2="603.8" stroke="#bbb" stroke-width="0.4"/>
<line x1="320" y1="573" x2="320" y2="621" stroke="#e4e4e4" stroke-width="0.4"/>
<text x="310" y="607.51" font-size="2.8" fill="#555" stroke="#555" stroke-width="0.09" textLength="17" lengthAdjust="spacingAndGlyphs">Zero cross at 9076</text>
<text x="324.8" y="620.81" font-size="2.8" fill="#555" stroke="#555" stroke-width="0.09" textLength="28.8" lengthAdjust="spacingAndGlyphs">'na_neg' (negatively correlated)</text>
<line x1="275.1" y1="594" x2="276.3" y2="594" stroke="#222" stroke-width="0.5"/>
<text x="273" y="595.19" font-size="3.3" text-anchor="end" fill="#222" stroke="#222" stroke-width="0.1">0.50</text>
<line x1="275.1" y1="598.35" x2="276.3" y2="598.35" stroke="#222" stroke-width="0.5"/>
<text x="273" y="599.54" font-size="3.3" text-anchor="end" fill="#222" stroke="#222" stroke-width="0.1">0.25</text>
<line x1="275.1" y1="602.7" x2="276.3" y2="602.7" stroke="#222" stroke-width="0.5"/>
<text x="273" y="603.89" font-size="3.3" text-anchor="end" fill="#222" stroke="#222" stroke-width="0.1">0.00</text>
<line x1="275.1" y1="607.05" x2="276.3" y2="607.05" stroke="#222" stroke-width="0.5"/>
<text x="273" y="608.24" font-size="3.3" text-anchor="end" fill="#222" stroke="#222" stroke-width="0.1">-0.25</text>
<line x1="275.1" y1="611.4" x2="276.3" y2="611.4" stroke="#222" stroke-width="0.5"/>
<text x="273" y="612.59" font-size="3.3" text-anchor="end" fill="#222" stroke="#222" stroke-width="0.1">-0.50</text>
<line x1="275.1" y1="615.75" x2="276.3" y2="615.75" stroke="#222" stroke-width="0.5"/>
<text x="273" y="616.94" font-size="3.3" text-anchor="end" fill="#222" stroke="#222" stroke-width="0.1">-0.75</text>
<line x1="275.1" y1="620.1" x2="276.3" y2="620.1" stroke="#222" stroke-width="0.5"/>
<text x="273" y="621.29" font-size="3.3" text-anchor="end" fill="#222" stroke="#222" stroke-width="0.1">-1.00</text>
<line x1="275.1" y1="534.6" x2="276.3" y2="534.6" stroke="#222" stroke-width="0.5"/>
<text x="272.8" y="535.64" font-size="2.9" text-anchor="end" fill="#333" stroke="#333" stroke-width="0.09">0.6</text>
<line x1="275.1" y1="542.1" x2="276.3" y2="542.1" stroke="#222" stroke-width="0.5"/>
<text x="272.8" y="543.14" font-size="2.9" text-anchor="end" fill="#333" stroke="#333" stroke-width="0.09">0.5</text>
<line x1="275.1" y1="549.6" x2="276.3" y2="549.6" stroke="#222" stroke-width="0.5"/>
<text x="272.8" y="550.64" font-size="2.9" text-anchor="end" fill="#333" stroke="#333" stroke-width="0.09">0.4</text>
<line x1="275.1" y1="557.1" x2="276.3" y2="557.1" stroke="#222" stroke-width="0.5"/>
<text x="272.8" y="558.14" font-size="2.9" text-anchor="end" fill="#333" stroke="#333" stroke-width="0.09">0.3</text>
<line x1="275.1" y1="564.6" x2="276.3" y2="564.6" stroke="#222" stroke-width="0.5"/>
<text x="272.8" y="565.64" font-size="2.9" text-anchor="end" fill="#333" stroke="#333" stroke-width="0.09">0.2</text>
<line x1="275.1" y1="572.1" x2="276.3" y2="572.1" stroke="#222" stroke-width="0.5"/>
<text x="272.8" y="573.14" font-size="2.9" text-anchor="end" fill="#333" stroke="#333" stroke-width="0.09">0.1</text>
<polyline points="276.5,534.5 290,543.5 290.8,541.2 291.6,542.6 300,549.3 308.7,556.1 317.3,561.9 326,566.7 328.1,567.2 332.9,570.5 334.6,566.9 336.1,567.7 337.8,565.8 339.7,567 341.8,564.1 343.3,564.8 345.4,560.5 346.9,561.5 349,558.3 350.5,559.7 352.6,549.6 354.1,551.8 355.6,548 357.7,553.7 359.1,545.3 360.6,547.5 363.5,538.8 364.9,539.5 366.3,529.4 370.7,533.8" fill="none" stroke="#8caa2e" stroke-width="1.1" stroke-linejoin="round"/>
<rect x="276.3" y="528.8" width="98.7" height="92.6" fill="none" stroke="#111" stroke-width="1.1"/>
<line x1="276.5" y1="621.4" x2="276.5" y2="622.8" stroke="#222" stroke-width="0.5"/>
<text x="276.5" y="627.22" font-size="3.4" text-anchor="middle" fill="#222" stroke="#222" stroke-width="0.1">0</text>
<line x1="287.95" y1="621.4" x2="287.95" y2="622.8" stroke="#222" stroke-width="0.5"/>
<text x="287.95" y="627.22" font-size="3.4" text-anchor="middle" fill="#222" stroke="#222" stroke-width="0.1">2,500</text>
<line x1="299.4" y1="621.4" x2="299.4" y2="622.8" stroke="#222" stroke-width="0.5"/>
<text x="299.4" y="627.22" font-size="3.4" text-anchor="middle" fill="#222" stroke="#222" stroke-width="0.1">5,000</text>
<line x1="310.85" y1="621.4" x2="310.85" y2="622.8" stroke="#222" stroke-width="0.5"/>
<text x="310.85" y="627.22" font-size="3.4" text-anchor="middle" fill="#222" stroke="#222" stroke-width="0.1">7,500</text>
<line x1="322.3" y1="621.4" x2="322.3" y2="622.8" stroke="#222" stroke-width="0.5"/>
<text x="322.3" y="627.22" font-size="3.4" text-anchor="middle" fill="#222" stroke="#222" stroke-width="0.1">10,000</text>
<line x1="333.75" y1="621.4" x2="333.75" y2="622.8" stroke="#222" stroke-width="0.5"/>
<text x="333.75" y="627.22" font-size="3.4" text-anchor="middle" fill="#222" stroke="#222" stroke-width="0.1">12,500</text>
<line x1="345.2" y1="621.4" x2="345.2" y2="622.8" stroke="#222" stroke-width="0.5"/>
<text x="345.2" y="627.22" font-size="3.4" text-anchor="middle" fill="#222" stroke="#222" stroke-width="0.1">15,000</text>
<line x1="356.65" y1="621.4" x2="356.65" y2="622.8" stroke="#222" stroke-width="0.5"/>
<text x="356.65" y="627.22" font-size="3.4" text-anchor="middle" fill="#222" stroke="#222" stroke-width="0.1">17,500</text>
<line x1="368.1" y1="621.4" x2="368.1" y2="622.8" stroke="#222" stroke-width="0.5"/>
<text x="368.1" y="627.22" font-size="3.4" text-anchor="middle" fill="#222" stroke="#222" stroke-width="0.1">20,000</text>
<text x="325.6" y="633.18" font-size="4.4" text-anchor="middle" font-weight="bold" fill="#333" stroke="#333" stroke-width="0.14" textLength="42.5" lengthAdjust="spacingAndGlyphs">Rank in ordered dataset</text>
<text x="261.8" y="553.22" font-size="3.4" text-anchor="middle" fill="#444" stroke="#444" stroke-width="0.1" textLength="38" lengthAdjust="spacingAndGlyphs" transform="rotate(-90 261.8 552)">Enrichment score (ES)</text>
<text x="261.8" y="606.52" font-size="3.4" text-anchor="middle" fill="#444" stroke="#444" stroke-width="0.1" textLength="57" lengthAdjust="spacingAndGlyphs" transform="rotate(-90 261.8 605.3)">Ranked list metric (Signal2Noise)</text>
<line x1="277.8" y1="639.8" x2="282.6" y2="639.8" stroke="#a8c070" stroke-width="0.8"/>
<text x="283.8" y="640.99" font-size="3.3" fill="#333" stroke="#333" stroke-width="0.1" textLength="17" lengthAdjust="spacingAndGlyphs">Enrichment profile</text>
<line x1="307.4" y1="639.8" x2="311.5" y2="639.8" stroke="#222" stroke-width="1"/>
<text x="312.7" y="640.99" font-size="3.3" fill="#333" stroke="#333" stroke-width="0.1" textLength="5.3" lengthAdjust="spacingAndGlyphs">Hits</text>
<line x1="324.7" y1="639.8" x2="330.7" y2="639.8" stroke="#aaa" stroke-width="0.7"/>
<text x="332" y="640.99" font-size="3.3" fill="#333" stroke="#333" stroke-width="0.1" textLength="40.8" lengthAdjust="spacingAndGlyphs">Ranking metric scores</text>
</svg>
</body></html>
